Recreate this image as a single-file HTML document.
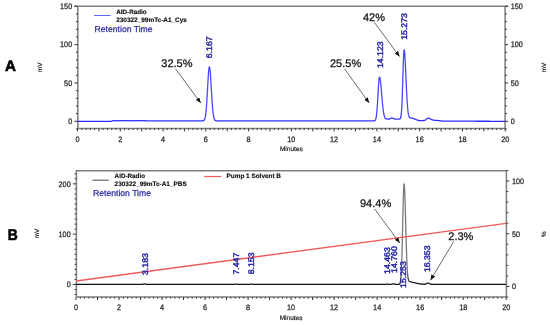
<!DOCTYPE html><html><head><meta charset="utf-8"><style>html,body{margin:0;padding:0;background:#fff;width:550px;height:325px;overflow:hidden}svg{display:block;filter:blur(0.3px)}text{font-family:"Liberation Sans", sans-serif;text-rendering:geometricPrecision}</style></head><body>
<svg width="550" height="325" viewBox="0 0 550 325" fill="none">
<rect width="550" height="325" fill="#fff"/>
<defs><marker id="ah" viewBox="0 0 10 8" refX="10" refY="4" markerWidth="5.5" markerHeight="4.4" markerUnits="userSpaceOnUse" orient="auto"><path d="M0 0L10 4L0 8z" fill="#111"/></marker><linearGradient id="ga" gradientUnits="userSpaceOnUse" x1="0" y1="122" x2="0" y2="112"><stop offset="0" stop-color="#2b2bff"/><stop offset="1" stop-color="#4848ff"/></linearGradient><linearGradient id="gb" gradientUnits="userSpaceOnUse" x1="0" y1="283.5" x2="0" y2="273"><stop offset="0" stop-color="#111"/><stop offset="1" stop-color="#7a7a7a"/></linearGradient></defs>
<path d="M74.6 6.3H508.3" stroke="#7e7e7e" stroke-width="1.5"/>
<path d="M77.8 6.3V128.4 M505.1 6.3V128.4" stroke="#7e7e7e" stroke-width="1.5"/>
<path d="M77.8 128.4H505.1" stroke="#7e7e7e" stroke-width="1.5"/>
<path d="M76 128.97H77.8 M74.3 121.3H77.8 M76 113.63H77.8 M76 105.97H77.8 M76 98.3H77.8 M76 90.63H77.8 M74.3 82.97H77.8 M76 75.3H77.8 M76 67.63H77.8 M76 59.96H77.8 M76 52.3H77.8 M74.3 44.63H77.8 M76 36.96H77.8 M76 29.3H77.8 M76 21.63H77.8 M76 13.96H77.8 M74.3 6.29H77.8" stroke="#333" stroke-width="1"/>
<path d="M505.1 128.97H506.9 M505.1 121.3H508 M505.1 113.63H506.9 M505.1 105.97H506.9 M505.1 98.3H506.9 M505.1 90.63H506.9 M505.1 82.97H508 M505.1 75.3H506.9 M505.1 67.63H506.9 M505.1 59.96H506.9 M505.1 52.3H506.9 M505.1 44.63H508 M505.1 36.96H506.9 M505.1 29.3H506.9 M505.1 21.63H506.9 M505.1 13.96H506.9 M505.1 6.29H508" stroke="#333" stroke-width="1"/>
<path d="M77.5 128.4V131.4 M81.78 128.4V130 M86.05 128.4V130 M90.33 128.4V130 M94.61 128.4V130 M98.89 128.4V131.4 M103.16 128.4V130 M107.44 128.4V130 M111.72 128.4V130 M115.99 128.4V130 M120.27 128.4V131.4 M124.55 128.4V130 M128.82 128.4V130 M133.1 128.4V130 M137.38 128.4V130 M141.66 128.4V131.4 M145.93 128.4V130 M150.21 128.4V130 M154.49 128.4V130 M158.76 128.4V130 M163.04 128.4V131.4 M167.32 128.4V130 M171.59 128.4V130 M175.87 128.4V130 M180.15 128.4V130 M184.43 128.4V131.4 M188.7 128.4V130 M192.98 128.4V130 M197.26 128.4V130 M201.53 128.4V130 M205.81 128.4V131.4 M210.09 128.4V130 M214.36 128.4V130 M218.64 128.4V130 M222.92 128.4V130 M227.2 128.4V131.4 M231.47 128.4V130 M235.75 128.4V130 M240.03 128.4V130 M244.3 128.4V130 M248.58 128.4V131.4 M252.86 128.4V130 M257.13 128.4V130 M261.41 128.4V130 M265.69 128.4V130 M269.97 128.4V131.4 M274.24 128.4V130 M278.52 128.4V130 M282.8 128.4V130 M287.07 128.4V130 M291.35 128.4V131.4 M295.63 128.4V130 M299.9 128.4V130 M304.18 128.4V130 M308.46 128.4V130 M312.74 128.4V131.4 M317.01 128.4V130 M321.29 128.4V130 M325.57 128.4V130 M329.84 128.4V130 M334.12 128.4V131.4 M338.4 128.4V130 M342.67 128.4V130 M346.95 128.4V130 M351.23 128.4V130 M355.5 128.4V131.4 M359.78 128.4V130 M364.06 128.4V130 M368.34 128.4V130 M372.61 128.4V130 M376.89 128.4V131.4 M381.17 128.4V130 M385.44 128.4V130 M389.72 128.4V130 M394 128.4V130 M398.28 128.4V131.4 M402.55 128.4V130 M406.83 128.4V130 M411.11 128.4V130 M415.38 128.4V130 M419.66 128.4V131.4 M423.94 128.4V130 M428.21 128.4V130 M432.49 128.4V130 M436.77 128.4V130 M441.05 128.4V131.4 M445.32 128.4V130 M449.6 128.4V130 M453.88 128.4V130 M458.15 128.4V130 M462.43 128.4V131.4 M466.71 128.4V130 M470.98 128.4V130 M475.26 128.4V130 M479.54 128.4V130 M483.82 128.4V131.4 M488.09 128.4V130 M492.37 128.4V130 M496.65 128.4V130 M500.92 128.4V130 M505.2 128.4V131.4" stroke="#333" stroke-width="1"/>
<text transform="translate(72.2 124.15) scale(0.92 1)" text-anchor="end" font-size="7.9" fill="#1e1e1e" stroke="#1e1e1e" stroke-width="0.25">0</text>
<text transform="translate(72.2 85.81) scale(0.92 1)" text-anchor="end" font-size="7.9" fill="#1e1e1e" stroke="#1e1e1e" stroke-width="0.25">50</text>
<text transform="translate(72.2 47.48) scale(0.92 1)" text-anchor="end" font-size="7.9" fill="#1e1e1e" stroke="#1e1e1e" stroke-width="0.25">100</text>
<text transform="translate(72.2 9.14) scale(0.92 1)" text-anchor="end" font-size="7.9" fill="#1e1e1e" stroke="#1e1e1e" stroke-width="0.25">150</text>
<text transform="translate(510.7 124.15) scale(0.92 1)" font-size="7.9" fill="#1e1e1e" stroke="#1e1e1e" stroke-width="0.25">0</text>
<text transform="translate(510.7 85.81) scale(0.92 1)" font-size="7.9" fill="#1e1e1e" stroke="#1e1e1e" stroke-width="0.25">50</text>
<text transform="translate(510.7 47.48) scale(0.92 1)" font-size="7.9" fill="#1e1e1e" stroke="#1e1e1e" stroke-width="0.25">100</text>
<text transform="translate(510.7 9.14) scale(0.92 1)" font-size="7.9" fill="#1e1e1e" stroke="#1e1e1e" stroke-width="0.25">150</text>
<text transform="translate(77.5 141.7) scale(0.92 1)" text-anchor="middle" font-size="7.9" fill="#1e1e1e" stroke="#1e1e1e" stroke-width="0.25">0</text>
<text transform="translate(120.27 141.7) scale(0.92 1)" text-anchor="middle" font-size="7.9" fill="#1e1e1e" stroke="#1e1e1e" stroke-width="0.25">2</text>
<text transform="translate(163.04 141.7) scale(0.92 1)" text-anchor="middle" font-size="7.9" fill="#1e1e1e" stroke="#1e1e1e" stroke-width="0.25">4</text>
<text transform="translate(205.81 141.7) scale(0.92 1)" text-anchor="middle" font-size="7.9" fill="#1e1e1e" stroke="#1e1e1e" stroke-width="0.25">6</text>
<text transform="translate(248.58 141.7) scale(0.92 1)" text-anchor="middle" font-size="7.9" fill="#1e1e1e" stroke="#1e1e1e" stroke-width="0.25">8</text>
<text transform="translate(291.35 141.7) scale(0.92 1)" text-anchor="middle" font-size="7.9" fill="#1e1e1e" stroke="#1e1e1e" stroke-width="0.25">10</text>
<text transform="translate(334.12 141.7) scale(0.92 1)" text-anchor="middle" font-size="7.9" fill="#1e1e1e" stroke="#1e1e1e" stroke-width="0.25">12</text>
<text transform="translate(376.89 141.7) scale(0.92 1)" text-anchor="middle" font-size="7.9" fill="#1e1e1e" stroke="#1e1e1e" stroke-width="0.25">14</text>
<text transform="translate(419.66 141.7) scale(0.92 1)" text-anchor="middle" font-size="7.9" fill="#1e1e1e" stroke="#1e1e1e" stroke-width="0.25">16</text>
<text transform="translate(462.43 141.7) scale(0.92 1)" text-anchor="middle" font-size="7.9" fill="#1e1e1e" stroke="#1e1e1e" stroke-width="0.25">18</text>
<text transform="translate(505.2 141.7) scale(0.92 1)" text-anchor="middle" font-size="7.9" fill="#1e1e1e" stroke="#1e1e1e" stroke-width="0.25">20</text>
<text x="291.35" y="150.6" text-anchor="middle" font-size="6.5" fill="#1e1e1e" stroke="#1e1e1e" stroke-width="0.2">Minutes</text>
<polyline points="77.5,121.3 77.68,121.3 77.86,121.3 78.03,121.3 78.21,121.3 78.39,121.3 78.57,121.3 78.75,121.3 78.93,121.3 79.1,121.3 79.28,121.3 79.46,121.3 79.64,121.3 79.82,121.3 79.99,121.3 80.17,121.3 80.35,121.3 80.53,121.3 80.71,121.3 80.89,121.3 81.06,121.3 81.24,121.3 81.42,121.3 81.6,121.3 81.78,121.3 81.96,121.3 82.13,121.3 82.31,121.3 82.49,121.3 82.67,121.3 82.85,121.3 83.02,121.3 83.2,121.3 83.38,121.3 83.56,121.3 83.74,121.3 83.92,121.3 84.09,121.3 84.27,121.3 84.45,121.3 84.63,121.3 84.81,121.3 84.98,121.3 85.16,121.3 85.34,121.3 85.52,121.3 85.7,121.3 85.88,121.3 86.05,121.3 86.23,121.3 86.41,121.3 86.59,121.3 86.77,121.3 86.95,121.3 87.12,121.3 87.3,121.3 87.48,121.3 87.66,121.3 87.84,121.3 88.01,121.3 88.19,121.3 88.37,121.3 88.55,121.3 88.73,121.3 88.91,121.3 89.08,121.3 89.26,121.3 89.44,121.3 89.62,121.3 89.8,121.3 89.97,121.3 90.15,121.3 90.33,121.3 90.51,121.3 90.69,121.3 90.87,121.3 91.04,121.3 91.22,121.3 91.4,121.3 91.58,121.3 91.76,121.3 91.93,121.3 92.11,121.3 92.29,121.3 92.47,121.3 92.65,121.3 92.83,121.3 93,121.3 93.18,121.3 93.36,121.3 93.54,121.3 93.72,121.3 93.9,121.3 94.07,121.3 94.25,121.3 94.43,121.3 94.61,121.3 94.79,121.3 94.96,121.3 95.14,121.3 95.32,121.3 95.5,121.3 95.68,121.3 95.86,121.3 96.03,121.3 96.21,121.3 96.39,121.3 96.57,121.3 96.75,121.3 96.92,121.3 97.1,121.3 97.28,121.3 97.46,121.3 97.64,121.3 97.82,121.3 97.99,121.3 98.17,121.3 98.35,121.3 98.53,121.3 98.71,121.3 98.89,121.3 99.06,121.3 99.24,121.3 99.42,121.3 99.6,121.3 99.78,121.3 99.95,121.3 100.13,121.3 100.31,121.3 100.49,121.3 100.67,121.3 100.85,121.3 101.02,121.3 101.2,121.3 101.38,121.3 101.56,121.3 101.74,121.3 101.91,121.3 102.09,121.3 102.27,121.3 102.45,121.3 102.63,121.3 102.81,121.3 102.98,121.3 103.16,121.3 103.34,121.3 103.52,121.3 103.7,121.3 103.87,121.3 104.05,121.3 104.23,121.3 104.41,121.3 104.59,121.3 104.77,121.3 104.94,121.3 105.12,121.3 105.3,121.3 105.48,121.3 105.66,121.3 105.84,121.3 106.01,121.3 106.19,121.3 106.37,121.3 106.55,121.3 106.73,121.3 106.9,121.3 107.08,121.3 107.26,121.3 107.44,121.3 107.62,121.3 107.8,121.3 107.97,121.3 108.15,121.3 108.33,121.3 108.51,121.3 108.69,121.3 108.86,121.3 109.04,121.3 109.22,121.3 109.4,121.3 109.58,121.3 109.76,121.3 109.93,121.3 110.11,121.3 110.29,121.3 110.47,121.3 110.65,121.3 110.82,121.29 111,121.28 111.18,121.25 111.36,121.22 111.54,121.18 111.72,121.14 111.89,121.09 112.07,121.04 112.25,120.99 112.43,120.94 112.61,120.89 112.79,120.85 112.96,120.8 113.14,120.76 113.32,120.73 113.5,120.71 113.68,120.69 113.85,120.69 114.03,120.59 114.21,120.58 114.39,120.57 114.57,120.58 114.75,120.6 114.92,120.63 115.1,120.67 115.28,120.71 115.46,120.74 115.64,120.77 115.81,120.79 115.99,120.8 116.17,120.8 116.35,120.78 116.53,120.75 116.71,120.71 116.88,120.67 117.06,120.64 117.24,120.6 117.42,120.58 117.6,120.57 117.78,120.58 117.95,120.59 118.13,120.62 118.31,120.65 118.49,120.69 118.67,120.73 118.84,120.76 119.02,120.79 119.2,120.8 119.38,120.8 119.56,120.79 119.74,120.76 119.91,120.73 120.09,120.69 120.27,120.65 120.45,120.62 120.63,120.59 120.8,120.57 120.98,120.57 121.16,120.58 121.34,120.61 121.52,120.64 121.7,120.68 121.87,120.72 122.05,120.75 122.23,120.78 122.41,120.8 122.59,120.8 122.76,120.79 122.94,120.77 123.12,120.74 123.3,120.7 123.48,120.67 123.66,120.63 123.83,120.6 124.01,120.58 124.19,120.57 124.37,120.58 124.55,120.6 124.73,120.63 124.9,120.66 125.08,120.7 125.26,120.74 125.44,120.77 125.62,120.79 125.79,120.8 125.97,120.8 126.15,120.78 126.33,120.75 126.51,120.72 126.69,120.68 126.86,120.64 127.04,120.61 127.22,120.59 127.4,120.57 127.58,120.57 127.75,120.59 127.93,120.61 128.11,120.65 128.29,120.68 128.47,120.72 128.65,120.76 128.82,120.78 129,120.8 129.18,120.8 129.36,120.79 129.54,120.77 129.72,120.73 129.89,120.7 130.07,120.66 130.25,120.62 130.43,120.59 130.61,120.58 130.78,120.57 130.96,120.58 131.14,120.6 131.32,120.63 131.5,120.67 131.68,120.71 131.85,120.75 132.03,120.78 132.21,120.79 132.39,120.8 132.57,120.8 132.74,120.78 132.92,120.75 133.1,120.71 133.28,120.67 133.46,120.63 133.64,120.6 133.81,120.58 133.99,120.57 134.17,120.58 134.35,120.59 134.53,120.62 134.7,120.65 134.88,120.69 135.06,120.73 135.24,120.76 135.42,120.79 135.6,120.8 135.77,120.8 135.95,120.79 136.13,120.76 136.31,120.73 136.49,120.69 136.67,120.65 136.84,120.61 137.02,120.59 137.2,120.57 137.38,120.57 137.56,120.58 137.73,120.61 137.91,120.64 138.09,120.68 138.27,120.72 138.45,120.75 138.63,120.78 138.8,120.8 138.98,120.8 139.16,120.79 139.34,120.77 139.52,120.74 139.69,120.7 139.87,120.66 140.05,120.63 140.23,120.6 140.41,120.58 140.59,120.57 140.76,120.58 140.94,120.6 141.12,120.63 141.3,120.66 141.48,120.7 141.66,120.74 141.83,120.77 142.01,120.79 142.19,120.8 142.37,120.8 142.55,120.78 142.72,120.75 142.9,120.72 143.08,120.68 143.26,120.64 143.44,120.61 143.62,120.58 143.79,120.69 143.97,120.69 144.15,120.69 144.33,120.7 144.51,120.71 144.68,120.72 144.86,120.73 145.04,120.74 145.22,120.75 145.4,120.76 145.58,120.78 145.75,120.79 145.93,120.8 146.11,120.81 146.29,120.82 146.47,120.83 146.64,120.83 146.82,120.84 147,120.84 147.18,120.84 147.36,120.84 147.54,120.84 147.71,120.84 147.89,120.84 148.07,120.84 148.25,120.84 148.43,120.84 148.61,120.84 148.78,120.84 148.96,120.84 149.14,120.84 149.32,120.84 149.5,120.84 149.67,120.84 149.85,120.84 150.03,120.84 150.21,120.84 150.39,120.84 150.57,120.84 150.74,120.84 150.92,120.84 151.1,120.84 151.28,120.84 151.46,120.84 151.63,120.84 151.81,120.84 151.99,120.84 152.17,120.84 152.35,120.84 152.53,120.84 152.7,120.84 152.88,120.84 153.06,120.84 153.24,120.84 153.42,120.84 153.59,120.84 153.77,120.84 153.95,120.84 154.13,120.84 154.31,120.84 154.49,120.84 154.66,120.84 154.84,120.84 155.02,120.84 155.2,120.84 155.38,120.84 155.56,120.84 155.73,120.84 155.91,120.84 156.09,120.84 156.27,120.84 156.45,120.84 156.62,120.84 156.8,120.84 156.98,120.84 157.16,120.84 157.34,120.84 157.52,120.84 157.69,120.84 157.87,120.84 158.05,120.84 158.23,120.84 158.41,120.84 158.58,120.84 158.76,120.84 158.94,120.84 159.12,120.84 159.3,120.84 159.48,120.84 159.65,120.84 159.83,120.84 160.01,120.84 160.19,120.84 160.37,120.84 160.55,120.84 160.72,120.84 160.9,120.84 161.08,120.84 161.26,120.84 161.44,120.84 161.61,120.84 161.79,120.84 161.97,120.84 162.15,120.84 162.33,120.84 162.51,120.84 162.68,120.84 162.86,120.84 163.04,120.84 163.22,120.84 163.4,120.84 163.57,120.84 163.75,120.84 163.93,120.84 164.11,120.84 164.29,120.84 164.47,120.84 164.64,120.84 164.82,120.84 165,120.84 165.18,120.84 165.36,120.84 165.53,120.84 165.71,120.84 165.89,120.84 166.07,120.84 166.25,120.84 166.43,120.84 166.6,120.84 166.78,120.84 166.96,120.84 167.14,120.84 167.32,120.84 167.5,120.84 167.67,120.84 167.85,120.84 168.03,120.84 168.21,120.84 168.39,120.84 168.56,120.84 168.74,120.84 168.92,120.84 169.1,120.84 169.28,120.84 169.46,120.84 169.63,120.84 169.81,120.84 169.99,120.84 170.17,120.84 170.35,120.84 170.52,120.84 170.7,120.84 170.88,120.84 171.06,120.84 171.24,120.84 171.42,120.84 171.59,120.84 171.77,120.84 171.95,120.84 172.13,120.84 172.31,120.84 172.49,120.84 172.66,120.84 172.84,120.84 173.02,120.84 173.2,120.84 173.38,120.84 173.55,120.84 173.73,120.84 173.91,120.84 174.09,120.84 174.27,120.84 174.45,120.84 174.62,120.84 174.8,120.84 174.98,120.84 175.16,120.84 175.34,120.84 175.51,120.84 175.69,120.84 175.87,120.84 176.05,120.84 176.23,120.84 176.41,120.84 176.58,120.84 176.76,120.84 176.94,120.84 177.12,120.84 177.3,120.84 177.47,120.84 177.65,120.84 177.83,120.84 178.01,120.84 178.19,120.84 178.37,120.84 178.54,120.84 178.72,120.84 178.9,120.84 179.08,120.84 179.26,120.84 179.44,120.84 179.61,120.84 179.79,120.84 179.97,120.84 180.15,120.84 180.33,120.84 180.5,120.84 180.68,120.84 180.86,120.84 181.04,120.84 181.22,120.84 181.4,120.84 181.57,120.84 181.75,120.84 181.93,120.84 182.11,120.84 182.29,120.84 182.46,120.84 182.64,120.84 182.82,120.84 183,120.84 183.18,120.84 183.36,120.84 183.53,120.84 183.71,120.84 183.89,120.84 184.07,120.84 184.25,120.84 184.43,120.84 184.6,120.84 184.78,120.84 184.96,120.84 185.14,120.84 185.32,120.84 185.49,120.84 185.67,120.84 185.85,120.84 186.03,120.84 186.21,120.84 186.39,120.84 186.56,120.84 186.74,120.84 186.92,120.84 187.1,120.84 187.28,120.84 187.45,120.84 187.63,120.84 187.81,120.84 187.99,120.84 188.17,120.84 188.35,120.84 188.52,120.84 188.7,120.84 188.88,120.84 189.06,120.84 189.24,120.84 189.41,120.84 189.59,120.84 189.77,120.84 189.95,120.84 190.13,120.84 190.31,120.84 190.48,120.84 190.66,120.84 190.84,120.84 191.02,120.84 191.2,120.84 191.38,120.84 191.55,120.84 191.73,120.84 191.91,120.84 192.09,120.84 192.27,120.84 192.44,120.84 192.62,120.84 192.8,120.84 192.98,120.84 193.16,120.84 193.34,120.84 193.51,120.84 193.69,120.84 193.87,120.84 194.05,120.84 194.23,120.84 194.4,120.84 194.58,120.84 194.76,120.84 194.94,120.84 195.12,120.84 195.3,120.84 195.47,120.84 195.65,120.84 195.83,120.84 196.01,120.84 196.19,120.84 196.36,120.84 196.54,120.84 196.72,120.84 196.9,120.84 197.08,120.84 197.26,120.84 197.43,120.84 197.61,120.84 197.79,120.84 197.97,120.84 198.15,120.84 198.33,120.84 198.5,120.84 198.68,120.84 198.86,120.84 199.04,120.84 199.22,120.84 199.39,120.84 199.57,120.84 199.75,120.84 199.93,120.84 200.11,120.84 200.29,120.84 200.46,120.84 200.64,120.84 200.82,120.84 201,120.84 201.18,120.84 201.35,120.84 201.53,120.84 201.71,120.83 201.89,120.83 202.07,120.83 202.25,120.82 202.42,120.81 202.6,120.8 202.78,120.78 202.96,120.75 203.14,120.71 203.32,120.66 203.49,120.59 203.67,120.5 203.85,120.37 204.03,120.2 204.21,119.99 204.38,119.71 204.56,119.36 204.74,118.92 204.92,118.38 205.1,117.7 205.28,116.89 205.45,115.9 205.63,114.74 205.81,113.37 205.99,111.79 206.17,109.97 206.34,107.93 206.52,105.64 206.7,103.13 206.88,100.41 207.06,97.5 207.24,94.43 207.41,91.25 207.59,88.02 207.77,84.79 207.95,81.63 208.13,78.61 208.3,75.8 208.48,73.27 208.66,71.1 208.84,69.34 209.02,68.03 209.2,67.23 209.37,66.94 209.55,67.16 209.73,67.84 209.91,68.97 210.09,70.52 210.27,72.45 210.44,74.71 210.62,77.25 210.8,80.01 210.98,82.93 211.16,85.95 211.33,89.01 211.51,92.05 211.69,95.03 211.87,97.9 212.05,100.63 212.23,103.19 212.4,105.56 212.58,107.73 212.76,109.69 212.94,111.44 213.12,112.98 213.29,114.33 213.47,115.49 213.65,116.49 213.83,117.33 214.01,118.03 214.19,118.61 214.36,119.09 214.54,119.48 214.72,119.79 214.9,120.03 215.08,120.23 215.26,120.38 215.43,120.5 215.61,120.59 215.79,120.65 215.97,120.7 216.15,120.74 216.32,120.77 216.5,120.79 216.68,120.81 216.86,120.82 217.04,120.82 217.22,120.83 217.39,120.83 217.57,120.83 217.75,120.84 217.93,120.84 218.11,120.84 218.28,120.84 218.46,120.84 218.64,120.84 218.82,120.84 219,120.84 219.18,120.84 219.35,120.84 219.53,120.84 219.71,120.84 219.89,120.84 220.07,120.84 220.24,120.84 220.42,120.84 220.6,120.84 220.78,120.84 220.96,120.84 221.14,120.84 221.31,120.84 221.49,120.84 221.67,120.84 221.85,120.84 222.03,120.84 222.21,120.84 222.38,120.84 222.56,120.84 222.74,120.84 222.92,120.84 223.1,120.84 223.27,120.84 223.45,120.84 223.63,120.84 223.81,120.84 223.99,120.84 224.17,120.84 224.34,120.84 224.52,120.84 224.7,120.84 224.88,120.84 225.06,120.84 225.23,120.84 225.41,120.84 225.59,120.84 225.77,120.84 225.95,120.84 226.13,120.84 226.3,120.84 226.48,120.84 226.66,120.84 226.84,120.84 227.02,120.84 227.2,120.84 227.37,120.84 227.55,120.84 227.73,120.84 227.91,120.84 228.09,120.84 228.26,120.84 228.44,120.84 228.62,120.84 228.8,120.84 228.98,120.84 229.16,120.84 229.33,120.84 229.51,120.84 229.69,120.84 229.87,120.84 230.05,120.84 230.22,120.84 230.4,120.84 230.58,120.84 230.76,120.84 230.94,120.84 231.12,120.84 231.29,120.84 231.47,120.84 231.65,120.84 231.83,120.84 232.01,120.84 232.18,120.84 232.36,120.84 232.54,120.84 232.72,120.84 232.9,120.84 233.08,120.84 233.25,120.84 233.43,120.84 233.61,120.84 233.79,120.84 233.97,120.84 234.15,120.84 234.32,120.84 234.5,120.84 234.68,120.84 234.86,120.84 235.04,120.84 235.21,120.84 235.39,120.84 235.57,120.84 235.75,120.84 235.93,120.84 236.11,120.84 236.28,120.84 236.46,120.84 236.64,120.84 236.82,120.84 237,120.84 237.17,120.84 237.35,120.84 237.53,120.84 237.71,120.84 237.89,120.84 238.07,120.84 238.24,120.84 238.42,120.84 238.6,120.84 238.78,120.84 238.96,120.84 239.13,120.84 239.31,120.84 239.49,120.84 239.67,120.84 239.85,120.84 240.03,120.84 240.2,120.84 240.38,120.84 240.56,120.84 240.74,120.84 240.92,120.84 241.1,120.84 241.27,120.84 241.45,120.84 241.63,120.84 241.81,120.84 241.99,120.84 242.16,120.84 242.34,120.84 242.52,120.84 242.7,120.84 242.88,120.84 243.06,120.84 243.23,120.84 243.41,120.84 243.59,120.84 243.77,120.84 243.95,120.84 244.12,120.84 244.3,120.84 244.48,120.84 244.66,120.84 244.84,120.84 245.02,120.84 245.19,120.84 245.37,120.84 245.55,120.84 245.73,120.84 245.91,120.84 246.09,120.84 246.26,120.84 246.44,120.84 246.62,120.84 246.8,120.84 246.98,120.84 247.15,120.84 247.33,120.84 247.51,120.84 247.69,120.84 247.87,120.84 248.05,120.84 248.22,120.84 248.4,120.84 248.58,120.84 248.76,120.84 248.94,120.84 249.11,120.84 249.29,120.84 249.47,120.84 249.65,120.84 249.83,120.84 250.01,120.84 250.18,120.84 250.36,120.84 250.54,120.84 250.72,120.84 250.9,120.84 251.07,120.84 251.25,120.84 251.43,120.84 251.61,120.84 251.79,120.84 251.97,120.84 252.14,120.84 252.32,120.84 252.5,120.84 252.68,120.84 252.86,120.84 253.04,120.84 253.21,120.84 253.39,120.84 253.57,120.84 253.75,120.84 253.93,120.84 254.1,120.84 254.28,120.84 254.46,120.84 254.64,120.84 254.82,120.84 255,120.84 255.17,120.84 255.35,120.84 255.53,120.84 255.71,120.84 255.89,120.84 256.06,120.84 256.24,120.84 256.42,120.84 256.6,120.84 256.78,120.84 256.96,120.84 257.13,120.84 257.31,120.84 257.49,120.84 257.67,120.84 257.85,120.84 258.03,120.84 258.2,120.84 258.38,120.84 258.56,120.84 258.74,120.84 258.92,120.84 259.09,120.84 259.27,120.84 259.45,120.84 259.63,120.84 259.81,120.84 259.99,120.84 260.16,120.84 260.34,120.84 260.52,120.84 260.7,120.84 260.88,120.84 261.05,120.84 261.23,120.84 261.41,120.84 261.59,120.84 261.77,120.84 261.95,120.84 262.12,120.84 262.3,120.84 262.48,120.84 262.66,120.84 262.84,120.84 263.01,120.84 263.19,120.84 263.37,120.84 263.55,120.84 263.73,120.84 263.91,120.84 264.08,120.84 264.26,120.84 264.44,120.84 264.62,120.84 264.8,120.84 264.98,120.84 265.15,120.84 265.33,120.84 265.51,120.84 265.69,120.84 265.87,120.84 266.04,120.84 266.22,120.84 266.4,120.84 266.58,120.84 266.76,120.84 266.94,120.84 267.11,120.84 267.29,120.84 267.47,120.84 267.65,120.84 267.83,120.84 268,120.84 268.18,120.84 268.36,120.84 268.54,120.84 268.72,120.84 268.9,120.84 269.07,120.84 269.25,120.84 269.43,120.84 269.61,120.84 269.79,120.84 269.97,120.84 270.14,120.84 270.32,120.84 270.5,120.84 270.68,120.84 270.86,120.84 271.03,120.84 271.21,120.84 271.39,120.84 271.57,120.84 271.75,120.84 271.93,120.84 272.1,120.84 272.28,120.84 272.46,120.84 272.64,120.84 272.82,120.84 272.99,120.84 273.17,120.84 273.35,120.84 273.53,120.84 273.71,120.84 273.89,120.84 274.06,120.84 274.24,120.84 274.42,120.84 274.6,120.84 274.78,120.84 274.95,120.84 275.13,120.84 275.31,120.84 275.49,120.84 275.67,120.84 275.85,120.84 276.02,120.84 276.2,120.84 276.38,120.84 276.56,120.84 276.74,120.84 276.92,120.84 277.09,120.84 277.27,120.84 277.45,120.84 277.63,120.84 277.81,120.84 277.98,120.84 278.16,120.84 278.34,120.84 278.52,120.84 278.7,120.84 278.88,120.84 279.05,120.84 279.23,120.84 279.41,120.84 279.59,120.84 279.77,120.84 279.94,120.84 280.12,120.84 280.3,120.84 280.48,120.84 280.66,120.84 280.84,120.84 281.01,120.84 281.19,120.84 281.37,120.84 281.55,120.84 281.73,120.84 281.9,120.84 282.08,120.84 282.26,120.84 282.44,120.84 282.62,120.84 282.8,120.84 282.97,120.84 283.15,120.84 283.33,120.84 283.51,120.84 283.69,120.84 283.87,120.84 284.04,120.84 284.22,120.84 284.4,120.84 284.58,120.84 284.76,120.84 284.93,120.84 285.11,120.84 285.29,120.84 285.47,120.84 285.65,120.84 285.83,120.84 286,120.84 286.18,120.84 286.36,120.84 286.54,120.84 286.72,120.84 286.89,120.84 287.07,120.84 287.25,120.84 287.43,120.84 287.61,120.84 287.79,120.84 287.96,120.84 288.14,120.84 288.32,120.84 288.5,120.84 288.68,120.84 288.86,120.84 289.03,120.84 289.21,120.84 289.39,120.84 289.57,120.84 289.75,120.84 289.92,120.84 290.1,120.84 290.28,120.84 290.46,120.84 290.64,120.84 290.82,120.84 290.99,120.84 291.17,120.84 291.35,120.84 291.53,120.84 291.71,120.84 291.88,120.84 292.06,120.84 292.24,120.84 292.42,120.84 292.6,120.84 292.78,120.84 292.95,120.84 293.13,120.84 293.31,120.84 293.49,120.84 293.67,120.84 293.84,120.84 294.02,120.84 294.2,120.84 294.38,120.84 294.56,120.84 294.74,120.84 294.91,120.84 295.09,120.84 295.27,120.84 295.45,120.84 295.63,120.84 295.81,120.84 295.98,120.84 296.16,120.84 296.34,120.84 296.52,120.84 296.7,120.84 296.87,120.84 297.05,120.84 297.23,120.84 297.41,120.84 297.59,120.84 297.77,120.84 297.94,120.84 298.12,120.84 298.3,120.84 298.48,120.84 298.66,120.84 298.83,120.84 299.01,120.84 299.19,120.84 299.37,120.84 299.55,120.84 299.73,120.84 299.9,120.84 300.08,120.84 300.26,120.84 300.44,120.84 300.62,120.84 300.8,120.84 300.97,120.84 301.15,120.84 301.33,120.84 301.51,120.84 301.69,120.84 301.86,120.84 302.04,120.84 302.22,120.84 302.4,120.84 302.58,120.84 302.76,120.84 302.93,120.84 303.11,120.84 303.29,120.84 303.47,120.84 303.65,120.84 303.82,120.84 304,120.84 304.18,120.84 304.36,120.84 304.54,120.84 304.72,120.84 304.89,120.84 305.07,120.84 305.25,120.84 305.43,120.84 305.61,120.84 305.78,120.84 305.96,120.84 306.14,120.84 306.32,120.84 306.5,120.84 306.68,120.84 306.85,120.84 307.03,120.84 307.21,120.84 307.39,120.84 307.57,120.84 307.75,120.84 307.92,120.84 308.1,120.84 308.28,120.84 308.46,120.84 308.64,120.84 308.81,120.84 308.99,120.84 309.17,120.84 309.35,120.84 309.53,120.84 309.71,120.84 309.88,120.84 310.06,120.84 310.24,120.84 310.42,120.84 310.6,120.84 310.77,120.84 310.95,120.84 311.13,120.84 311.31,120.84 311.49,120.84 311.67,120.84 311.84,120.84 312.02,120.84 312.2,120.84 312.38,120.84 312.56,120.84 312.74,120.84 312.91,120.84 313.09,120.84 313.27,120.84 313.45,120.84 313.63,120.84 313.8,120.84 313.98,120.84 314.16,120.84 314.34,120.84 314.52,120.84 314.7,120.84 314.87,120.84 315.05,120.84 315.23,120.84 315.41,120.84 315.59,120.84 315.76,120.84 315.94,120.84 316.12,120.84 316.3,120.84 316.48,120.84 316.66,120.84 316.83,120.84 317.01,120.84 317.19,120.84 317.37,120.84 317.55,120.84 317.72,120.84 317.9,120.84 318.08,120.84 318.26,120.84 318.44,120.84 318.62,120.84 318.79,120.84 318.97,120.84 319.15,120.84 319.33,120.84 319.51,120.84 319.69,120.84 319.86,120.84 320.04,120.84 320.22,120.84 320.4,120.84 320.58,120.84 320.75,120.84 320.93,120.84 321.11,120.84 321.29,120.84 321.47,120.84 321.65,120.84 321.82,120.84 322,120.84 322.18,120.84 322.36,120.84 322.54,120.84 322.71,120.84 322.89,120.84 323.07,120.84 323.25,120.84 323.43,120.84 323.61,120.84 323.78,120.84 323.96,120.84 324.14,120.84 324.32,120.84 324.5,120.84 324.67,120.84 324.85,120.84 325.03,120.84 325.21,120.84 325.39,120.84 325.57,120.84 325.74,120.84 325.92,120.84 326.1,120.84 326.28,120.84 326.46,120.84 326.64,120.84 326.81,120.84 326.99,120.84 327.17,120.84 327.35,120.84 327.53,120.84 327.7,120.84 327.88,120.84 328.06,120.84 328.24,120.84 328.42,120.84 328.6,120.84 328.77,120.84 328.95,120.84 329.13,120.84 329.31,120.84 329.49,120.84 329.66,120.84 329.84,120.84 330.02,120.84 330.2,120.84 330.38,120.84 330.56,120.84 330.73,120.84 330.91,120.84 331.09,120.84 331.27,120.84 331.45,120.84 331.63,120.84 331.8,120.84 331.98,120.84 332.16,120.84 332.34,120.84 332.52,120.84 332.69,120.84 332.87,120.84 333.05,120.84 333.23,120.84 333.41,120.84 333.59,120.84 333.76,120.84 333.94,120.84 334.12,120.84 334.3,120.84 334.48,120.84 334.65,120.84 334.83,120.84 335.01,120.84 335.19,120.84 335.37,120.84 335.55,120.84 335.72,120.84 335.9,120.84 336.08,120.84 336.26,120.84 336.44,120.84 336.61,120.84 336.79,120.84 336.97,120.84 337.15,120.84 337.33,120.84 337.51,120.84 337.68,120.84 337.86,120.84 338.04,120.84 338.22,120.84 338.4,120.84 338.58,120.84 338.75,120.84 338.93,120.84 339.11,120.84 339.29,120.84 339.47,120.84 339.64,120.84 339.82,120.84 340,120.84 340.18,120.84 340.36,120.84 340.54,120.84 340.71,120.84 340.89,120.84 341.07,120.84 341.25,120.84 341.43,120.84 341.6,120.84 341.78,120.84 341.96,120.84 342.14,120.84 342.32,120.84 342.5,120.84 342.67,120.84 342.85,120.84 343.03,120.84 343.21,120.84 343.39,120.84 343.57,120.84 343.74,120.84 343.92,120.84 344.1,120.84 344.28,120.84 344.46,120.84 344.63,120.84 344.81,120.84 344.99,120.84 345.17,120.84 345.35,120.84 345.53,120.84 345.7,120.84 345.88,120.84 346.06,120.84 346.24,120.84 346.42,120.84 346.59,120.84 346.77,120.84 346.95,120.84 347.13,120.84 347.31,120.84 347.49,120.84 347.66,120.84 347.84,120.84 348.02,120.84 348.2,120.84 348.38,120.84 348.55,120.84 348.73,120.84 348.91,120.84 349.09,120.84 349.27,120.84 349.45,120.84 349.62,120.84 349.8,120.84 349.98,120.84 350.16,120.84 350.34,120.84 350.52,120.84 350.69,120.84 350.87,120.84 351.05,120.84 351.23,120.84 351.41,120.84 351.58,120.84 351.76,120.84 351.94,120.84 352.12,120.84 352.3,120.84 352.48,120.84 352.65,120.84 352.83,120.84 353.01,120.84 353.19,120.84 353.37,120.84 353.54,120.84 353.72,120.84 353.9,120.84 354.08,120.84 354.26,120.84 354.44,120.84 354.61,120.84 354.79,120.84 354.97,120.84 355.15,120.84 355.33,120.84 355.5,120.84 355.68,120.84 355.86,120.84 356.04,120.84 356.22,120.84 356.4,120.84 356.57,120.84 356.75,120.84 356.93,120.84 357.11,120.84 357.29,120.84 357.47,120.84 357.64,120.84 357.82,120.84 358,120.84 358.18,120.84 358.36,120.84 358.53,120.84 358.71,120.84 358.89,120.84 359.07,120.84 359.25,120.84 359.43,120.84 359.6,120.84 359.78,120.84 359.96,120.84 360.14,120.84 360.32,120.84 360.49,120.84 360.67,120.84 360.85,120.84 361.03,120.84 361.21,120.84 361.39,120.84 361.56,120.84 361.74,120.84 361.92,120.84 362.1,120.84 362.28,120.84 362.46,120.84 362.63,120.84 362.81,120.84 362.99,120.84 363.17,120.84 363.35,120.84 363.52,120.84 363.7,120.84 363.88,120.84 364.06,120.84 364.24,120.84 364.42,120.84 364.59,120.84 364.77,120.84 364.95,120.84 365.13,120.84 365.31,120.84 365.48,120.84 365.66,120.84 365.84,120.84 366.02,120.84 366.2,120.84 366.38,120.84 366.55,120.84 366.73,120.84 366.91,120.84 367.09,120.84 367.27,120.84 367.44,120.84 367.62,120.84 367.8,120.84 367.98,120.84 368.16,120.84 368.34,120.84 368.51,120.84 368.69,120.84 368.87,120.84 369.05,120.84 369.23,120.84 369.41,120.84 369.58,120.84 369.76,120.84 369.94,120.84 370.12,120.84 370.3,120.84 370.47,120.84 370.65,120.84 370.83,120.84 371.01,120.84 371.19,120.84 371.37,120.84 371.54,120.84 371.72,120.84 371.9,120.84 372.08,120.84 372.26,120.84 372.43,120.84 372.61,120.84 372.79,120.84 372.97,120.84 373.15,120.84 373.33,120.83 373.5,120.83 373.68,120.82 373.86,120.81 374.04,120.79 374.22,120.76 374.4,120.72 374.57,120.66 374.75,120.57 374.93,120.45 375.11,120.28 375.29,120.04 375.46,119.71 375.64,119.29 375.82,118.74 376,118.04 376.18,117.16 376.36,116.09 376.53,114.78 376.71,113.23 376.89,111.42 377.07,109.33 377.25,106.98 377.42,104.38 377.6,101.57 377.78,98.58 377.96,95.49 378.14,92.36 378.32,89.3 378.49,86.38 378.67,83.72 378.85,81.41 379.03,79.53 379.21,78.16 379.38,77.35 379.56,77.12 379.74,77.29 379.92,77.77 380.1,78.53 380.28,79.57 380.45,80.87 380.63,82.39 380.81,84.1 380.99,85.98 381.17,87.98 381.35,90.07 381.52,92.22 381.7,94.39 381.88,96.55 382.06,98.67 382.24,100.73 382.41,102.71 382.59,104.57 382.77,106.32 382.95,107.94 383.13,109.42 383.31,110.76 383.48,111.97 383.66,113.05 383.84,114 384.02,114.83 384.2,115.55 384.37,116.17 384.55,116.7 384.73,117.15 384.91,117.52 385.09,117.83 385.27,118.09 385.44,118.29 385.62,118.46 385.8,118.6 385.98,118.71 386.16,118.79 386.34,118.86 386.51,118.91 386.69,118.95 386.87,118.99 387.05,119.01 387.23,119.03 387.4,119.04 387.58,119.05 387.76,119.06 387.94,119.06 388.12,119.06 388.3,119.06 388.47,119.06 388.65,119.05 388.83,119.04 389.01,119.02 389.19,119 389.36,118.97 389.54,118.92 389.72,118.86 389.9,118.79 390.08,118.71 390.26,118.62 390.43,118.51 390.61,118.4 390.79,118.3 390.97,118.2 391.15,118.11 391.32,118.05 391.5,118.01 391.68,118 391.86,118.01 392.04,118.04 392.22,118.08 392.39,118.13 392.57,118.19 392.75,118.26 392.93,118.33 393.11,118.41 393.29,118.49 393.46,118.56 393.64,118.64 393.82,118.7 394,118.76 394.18,118.82 394.35,118.87 394.53,118.91 394.71,118.94 394.89,118.97 395.07,119 395.25,119.02 395.42,119.03 395.6,119.04 395.78,119.05 395.96,119.06 396.14,119.06 396.31,119.07 396.49,119.07 396.67,119.07 396.85,119.07 397.03,119.07 397.21,119.08 397.38,119.08 397.56,119.08 397.74,119.08 397.92,119.08 398.1,119.08 398.28,119.08 398.45,119.07 398.63,119.07 398.81,119.07 398.99,119.06 399.17,119.05 399.34,119.03 399.52,119 399.7,118.94 399.88,118.85 400.06,118.71 400.24,118.49 400.41,118.18 400.59,117.74 400.77,117.11 400.95,116.24 401.13,115.07 401.3,113.53 401.48,111.54 401.66,109.02 401.84,105.93 402.02,102.22 402.2,97.88 402.37,92.95 402.55,87.52 402.73,81.72 402.91,75.74 403.09,69.81 403.26,64.2 403.44,59.19 403.62,55.03 403.8,51.97 403.98,50.19 404.16,49.76 404.33,50.22 404.51,51.33 404.69,53.07 404.87,55.38 405.05,58.21 405.23,61.46 405.4,65.06 405.58,68.92 405.76,72.94 405.94,77.04 406.12,81.13 406.29,85.14 406.47,88.99 406.65,92.64 406.83,96.05 407.01,99.18 407.19,102.02 407.36,104.57 407.54,106.81 407.72,108.78 407.9,110.47 408.08,111.91 408.25,113.13 408.43,114.14 408.61,114.97 408.79,115.65 408.97,116.2 409.15,116.64 409.32,116.98 409.5,117.26 409.68,117.47 409.86,117.63 410.04,117.75 410.21,117.84 410.39,117.91 410.57,117.96 410.75,118 410.93,118.03 411.11,118.04 411.28,118.06 411.46,118.08 411.64,118.1 411.82,118.12 412,118.15 412.18,118.18 412.35,118.22 412.53,118.26 412.71,118.31 412.89,118.35 413.07,118.41 413.24,118.46 413.42,118.52 413.6,118.58 413.78,118.65 413.96,118.72 414.14,118.79 414.31,118.86 414.49,118.93 414.67,119 414.85,119.08 415.03,119.15 415.2,119.23 415.38,119.31 415.56,119.38 415.74,119.46 415.92,119.54 416.1,119.61 416.27,119.68 416.45,119.76 416.63,119.83 416.81,119.9 416.99,119.96 417.17,120.03 417.34,120.09 417.52,120.15 417.7,120.21 417.88,120.26 418.06,120.31 418.23,120.35 418.41,120.39 418.59,120.43 418.77,120.46 418.95,120.49 419.13,120.51 419.3,120.52 419.48,120.53 419.66,120.53 419.84,120.53 420.02,120.53 420.19,120.53 420.37,120.53 420.55,120.53 420.73,120.53 420.91,120.53 421.09,120.53 421.26,120.53 421.44,120.53 421.62,120.53 421.8,120.53 421.98,120.53 422.15,120.53 422.33,120.53 422.51,120.53 422.69,120.53 422.87,120.53 423.05,120.52 423.22,120.52 423.4,120.51 423.58,120.5 423.76,120.49 423.94,120.48 424.12,120.45 424.29,120.43 424.47,120.39 424.65,120.35 424.83,120.29 425.01,120.22 425.18,120.14 425.36,120.05 425.54,119.94 425.72,119.81 425.9,119.67 426.08,119.52 426.25,119.36 426.43,119.2 426.61,119.03 426.79,118.86 426.97,118.7 427.14,118.56 427.32,118.43 427.5,118.33 427.68,118.26 427.86,118.21 428.04,118.2 428.21,118.2 428.39,118.22 428.57,118.24 428.75,118.28 428.93,118.32 429.11,118.38 429.28,118.44 429.46,118.51 429.64,118.59 429.82,118.67 430,118.75 430.17,118.84 430.35,118.93 430.53,119.03 430.71,119.12 430.89,119.21 431.07,119.3 431.24,119.39 431.42,119.47 431.6,119.56 431.78,119.63 431.96,119.71 432.13,119.78 432.31,119.84 432.49,119.9 432.67,119.96 432.85,120.01 433.03,120.05 433.2,120.09 433.38,120.13 433.56,120.17 433.74,120.19 433.92,120.22 434.09,120.24 434.27,120.26 434.45,120.28 434.63,120.3 434.81,120.31 434.99,120.33 435.16,120.34 435.34,120.35 435.52,120.36 435.7,120.38 435.88,120.39 436.06,120.4 436.23,120.41 436.41,120.43 436.59,120.44 436.77,120.45 436.95,120.47 437.12,120.48 437.3,120.5 437.48,120.51 437.66,120.53 437.84,120.54 438.02,120.56 438.19,120.58 438.37,120.6 438.55,120.61 438.73,120.63 438.91,120.65 439.08,120.67 439.26,120.69 439.44,120.71 439.62,120.72 439.8,120.74 439.98,120.76 440.15,120.78 440.33,120.8 440.51,120.82 440.69,120.84 440.87,120.86 441.05,120.88 441.22,120.9 441.4,120.91 441.58,120.93 441.76,120.95 441.94,120.96 442.11,120.98 442.29,121 442.47,121.01 442.65,121.03 442.83,121.04 443.01,121.05 443.18,121.07 443.36,121.08 443.54,121.09 443.72,121.1 443.9,121.11 444.07,121.12 444.25,121.13 444.43,121.13 444.61,121.14 444.79,121.14 444.97,121.14 445.14,121.15 445.32,121.15 445.5,121.15 445.68,121.15 445.86,121.15 446.03,121.15 446.21,121.15 446.39,121.15 446.57,121.15 446.75,121.15 446.93,121.15 447.1,121.15 447.28,121.15 447.46,121.15 447.64,121.15 447.82,121.15 448,121.15 448.17,121.15 448.35,121.15 448.53,121.15 448.71,121.15 448.89,121.15 449.06,121.15 449.24,121.15 449.42,121.15 449.6,121.15 449.78,121.15 449.96,121.15 450.13,121.15 450.31,121.15 450.49,121.15 450.67,121.15 450.85,121.15 451.02,121.15 451.2,121.15 451.38,121.15 451.56,121.15 451.74,121.15 451.92,121.15 452.09,121.15 452.27,121.15 452.45,121.15 452.63,121.15 452.81,121.15 452.98,121.15 453.16,121.15 453.34,121.15 453.52,121.15 453.7,121.15 453.88,121.16 454.05,121.16 454.23,121.16 454.41,121.16 454.59,121.16 454.77,121.16 454.95,121.16 455.12,121.16 455.3,121.16 455.48,121.16 455.66,121.16 455.84,121.16 456.01,121.16 456.19,121.16 456.37,121.16 456.55,121.16 456.73,121.16 456.91,121.16 457.08,121.16 457.26,121.16 457.44,121.16 457.62,121.16 457.8,121.16 457.97,121.16 458.15,121.16 458.33,121.17 458.51,121.17 458.69,121.17 458.87,121.17 459.04,121.17 459.22,121.17 459.4,121.17 459.58,121.17 459.76,121.17 459.94,121.17 460.11,121.17 460.29,121.17 460.47,121.17 460.65,121.17 460.83,121.17 461,121.17 461.18,121.17 461.36,121.17 461.54,121.17 461.72,121.17 461.9,121.18 462.07,121.18 462.25,121.18 462.43,121.18 462.61,121.18 462.79,121.18 462.96,121.18 463.14,121.18 463.32,121.18 463.5,121.18 463.68,121.18 463.86,121.18 464.03,121.18 464.21,121.18 464.39,121.18 464.57,121.18 464.75,121.18 464.92,121.19 465.1,121.19 465.28,121.19 465.46,121.19 465.64,121.19 465.82,121.19 465.99,121.19 466.17,121.19 466.35,121.19 466.53,121.19 466.71,121.19 466.89,121.19 467.06,121.19 467.24,121.19 467.42,121.19 467.6,121.19 467.78,121.2 467.95,121.2 468.13,121.2 468.31,121.2 468.49,121.2 468.67,121.2 468.85,121.2 469.02,121.2 469.2,121.2 469.38,121.2 469.56,121.2 469.74,121.2 469.91,121.2 470.09,121.2 470.27,121.2 470.45,121.21 470.63,121.21 470.81,121.21 470.98,121.21 471.16,121.21 471.34,121.21 471.52,121.21 471.7,121.21 471.88,121.21 472.05,121.21 472.23,121.21 472.41,121.21 472.59,121.21 472.77,121.21 472.94,121.21 473.12,121.22 473.3,121.22 473.48,121.22 473.66,121.22 473.84,121.22 474.01,121.22 474.19,121.22 474.37,121.22 474.55,121.22 474.73,121.22 474.9,121.22 475.08,121.22 475.26,121.22 475.44,121.22 475.62,121.22 475.8,121.23 475.97,121.23 476.15,121.23 476.33,121.23 476.51,121.23 476.69,121.23 476.86,121.23 477.04,121.23 477.22,121.23 477.4,121.23 477.58,121.23 477.76,121.23 477.93,121.23 478.11,121.23 478.29,121.23 478.47,121.24 478.65,121.24 478.83,121.24 479,121.24 479.18,121.24 479.36,121.24 479.54,121.24 479.72,121.24 479.89,121.24 480.07,121.24 480.25,121.24 480.43,121.24 480.61,121.24 480.79,121.24 480.96,121.24 481.14,121.25 481.32,121.25 481.5,121.25 481.68,121.25 481.85,121.25 482.03,121.25 482.21,121.25 482.39,121.25 482.57,121.25 482.75,121.25 482.92,121.25 483.1,121.25 483.28,121.25 483.46,121.25 483.64,121.25 483.82,121.26 483.99,121.26 484.17,121.26 484.35,121.26 484.53,121.26 484.71,121.26 484.88,121.26 485.06,121.26 485.24,121.26 485.42,121.26 485.6,121.26 485.78,121.26 485.95,121.26 486.13,121.26 486.31,121.26 486.49,121.26 486.67,121.27 486.84,121.27 487.02,121.27 487.2,121.27 487.38,121.27 487.56,121.27 487.74,121.27 487.91,121.27 488.09,121.27 488.27,121.27 488.45,121.27 488.63,121.27 488.8,121.27 488.98,121.27 489.16,121.27 489.34,121.27 489.52,121.27 489.7,121.27 489.87,121.28 490.05,121.28 490.23,121.28 490.41,121.28 490.59,121.28 490.77,121.28 490.94,121.28 491.12,121.28 491.3,121.28 491.48,121.28 491.66,121.28 491.83,121.28 492.01,121.28 492.19,121.28 492.37,121.28 492.55,121.28 492.73,121.28 492.9,121.28 493.08,121.28 493.26,121.28 493.44,121.28 493.62,121.29 493.79,121.29 493.97,121.29 494.15,121.29 494.33,121.29 494.51,121.29 494.69,121.29 494.86,121.29 495.04,121.29 495.22,121.29 495.4,121.29 495.58,121.29 495.75,121.29 495.93,121.29 496.11,121.29 496.29,121.29 496.47,121.29 496.65,121.29 496.82,121.29 497,121.29 497.18,121.29 497.36,121.29 497.54,121.29 497.72,121.29 497.89,121.29 498.07,121.29 498.25,121.29 498.43,121.29 498.61,121.29 498.78,121.3 498.96,121.3 499.14,121.3 499.32,121.3 499.5,121.3 499.68,121.3 499.85,121.3 500.03,121.3 500.21,121.3 500.39,121.3 500.57,121.3 500.74,121.3 500.92,121.3 501.1,121.3 501.28,121.3 501.46,121.3 501.64,121.3 501.81,121.3 501.99,121.3 502.17,121.3 502.35,121.3 502.53,121.3 502.71,121.3 502.88,121.3 503.06,121.3 503.24,121.3 503.42,121.3 503.6,121.3 503.77,121.3 503.95,121.3 504.13,121.3 504.31,121.3 504.49,121.3 504.67,121.3 504.84,121.3 505.02,121.3 505.2,121.3" stroke="url(#ga)" stroke-width="1.3" stroke-linejoin="round"/>
<path d="M94 15.5H110.5" stroke="#6262ff" stroke-width="1"/>
<text x="116.2" y="13.8" font-size="6.3" font-weight="bold" fill="#111" stroke="#111" stroke-width="0.15">AID-Radio</text>
<text x="116.2" y="21.8" font-size="6.45" font-weight="bold" fill="#111" stroke="#111" stroke-width="0.15">230322_99mTc-A1_Cys</text>
<text x="94.6" y="31.6" font-size="8.65" fill="#2e2ea8" stroke="#2e2ea8" stroke-width="0.25">Retention Time</text>
<text transform="translate(212 58.2) rotate(-90) scale(1.065 1)" font-size="8.2" fill="#2626aa" stroke="#2626aa" stroke-width="0.45">6.167</text>
<text transform="translate(382.5 68) rotate(-90) scale(1.065 1)" font-size="8.2" fill="#2626aa" stroke="#2626aa" stroke-width="0.45">14.123</text>
<text transform="translate(407.1 39.8) rotate(-90) scale(1.065 1)" font-size="8.2" fill="#2626aa" stroke="#2626aa" stroke-width="0.45">15.273</text>
<text x="161.3" y="67.3" font-size="11" fill="#111" stroke="#111" stroke-width="0.25">32.5%</text>
<path d="M175.6 68.8L200.8 103.1" stroke="#444" stroke-width="0.8" marker-end="url(#ah)"/>
<text x="330" y="67.3" font-size="11" fill="#111" stroke="#111" stroke-width="0.25">25.5%</text>
<path d="M344.6 69L369.2 103" stroke="#444" stroke-width="0.8" marker-end="url(#ah)"/>
<text x="363" y="21.2" font-size="11" fill="#111" stroke="#111" stroke-width="0.25">42%</text>
<path d="M374.4 22.4L399.6 56.6" stroke="#444" stroke-width="0.8" marker-end="url(#ah)"/>
<text x="5.0" y="70.5" font-size="15.2" font-weight="bold" fill="#000" stroke="#000" stroke-width="0.6">A</text>
<text transform="translate(7.8 239.9) scale(0.9 1)" font-size="15.4" font-weight="bold" fill="#000" stroke="#000" stroke-width="0.6">B</text>
<text transform="translate(42.07 67.3) rotate(-90)" text-anchor="middle" font-size="6.3" fill="#2a2a2a" stroke="#2a2a2a" stroke-width="0.2">mV</text>
<text transform="translate(546.27 67.5) rotate(-90)" text-anchor="middle" font-size="6.3" fill="#2a2a2a" stroke="#2a2a2a" stroke-width="0.2">mV</text>
<text transform="translate(39.27 233.5) rotate(-90)" text-anchor="middle" font-size="6.3" fill="#2a2a2a" stroke="#2a2a2a" stroke-width="0.2">mV</text>
<text transform="translate(546.27 234.2) rotate(-90)" text-anchor="middle" font-size="6.3" fill="#2a2a2a" stroke="#2a2a2a" stroke-width="0.2">%</text>
<path d="M75.7 170.7H507.1" stroke="#7e7e7e" stroke-width="1.5"/>
<path d="M76.4 170.7V297 M506.4 170.7V297" stroke="#7e7e7e" stroke-width="1.5"/>
<path d="M76.4 297H506.4" stroke="#7e7e7e" stroke-width="1.5"/>
<path d="M74.6 294.51H76.4 M74.6 289.48H76.4 M72.9 284.45H76.4 M74.6 279.42H76.4 M74.6 274.39H76.4 M74.6 269.36H76.4 M74.6 264.33H76.4 M74.6 259.3H76.4 M74.6 254.27H76.4 M74.6 249.24H76.4 M74.6 244.21H76.4 M74.6 239.18H76.4 M72.9 234.15H76.4 M74.6 229.12H76.4 M74.6 224.09H76.4 M74.6 219.06H76.4 M74.6 214.03H76.4 M74.6 209H76.4 M74.6 203.97H76.4 M74.6 198.94H76.4 M74.6 193.91H76.4 M74.6 188.88H76.4 M72.9 183.85H76.4 M74.6 178.82H76.4 M74.6 173.79H76.4" stroke="#333" stroke-width="1"/>
<path d="M506.4 297.05H508.2 M506.4 286.5H509.3 M506.4 275.95H508.2 M506.4 265.4H508.2 M506.4 254.85H508.2 M506.4 244.3H508.2 M506.4 233.75H509.3 M506.4 223.2H508.2 M506.4 212.65H508.2 M506.4 202.1H508.2 M506.4 191.55H508.2 M506.4 181H509.3 M506.4 170.45H508.2" stroke="#333" stroke-width="1"/>
<path d="M76 297V300 M80.3 297V298.6 M84.6 297V298.6 M88.91 297V298.6 M93.21 297V298.6 M97.51 297V300 M101.81 297V298.6 M106.11 297V298.6 M110.42 297V298.6 M114.72 297V298.6 M119.02 297V300 M123.32 297V298.6 M127.62 297V298.6 M131.93 297V298.6 M136.23 297V298.6 M140.53 297V300 M144.83 297V298.6 M149.13 297V298.6 M153.44 297V298.6 M157.74 297V298.6 M162.04 297V300 M166.34 297V298.6 M170.64 297V298.6 M174.95 297V298.6 M179.25 297V298.6 M183.55 297V300 M187.85 297V298.6 M192.15 297V298.6 M196.46 297V298.6 M200.76 297V298.6 M205.06 297V300 M209.36 297V298.6 M213.66 297V298.6 M217.97 297V298.6 M222.27 297V298.6 M226.57 297V300 M230.87 297V298.6 M235.17 297V298.6 M239.48 297V298.6 M243.78 297V298.6 M248.08 297V300 M252.38 297V298.6 M256.68 297V298.6 M260.99 297V298.6 M265.29 297V298.6 M269.59 297V300 M273.89 297V298.6 M278.19 297V298.6 M282.5 297V298.6 M286.8 297V298.6 M291.1 297V300 M295.4 297V298.6 M299.7 297V298.6 M304.01 297V298.6 M308.31 297V298.6 M312.61 297V300 M316.91 297V298.6 M321.21 297V298.6 M325.52 297V298.6 M329.82 297V298.6 M334.12 297V300 M338.42 297V298.6 M342.72 297V298.6 M347.03 297V298.6 M351.33 297V298.6 M355.63 297V300 M359.93 297V298.6 M364.23 297V298.6 M368.54 297V298.6 M372.84 297V298.6 M377.14 297V300 M381.44 297V298.6 M385.74 297V298.6 M390.05 297V298.6 M394.35 297V298.6 M398.65 297V300 M402.95 297V298.6 M407.25 297V298.6 M411.56 297V298.6 M415.86 297V298.6 M420.16 297V300 M424.46 297V298.6 M428.76 297V298.6 M433.07 297V298.6 M437.37 297V298.6 M441.67 297V300 M445.97 297V298.6 M450.27 297V298.6 M454.58 297V298.6 M458.88 297V298.6 M463.18 297V300 M467.48 297V298.6 M471.78 297V298.6 M476.09 297V298.6 M480.39 297V298.6 M484.69 297V300 M488.99 297V298.6 M493.29 297V298.6 M497.6 297V298.6 M501.9 297V298.6 M506.2 297V300" stroke="#333" stroke-width="1"/>
<text transform="translate(70.7 287.3) scale(0.92 1)" text-anchor="end" font-size="7.9" fill="#1e1e1e" stroke="#1e1e1e" stroke-width="0.25">0</text>
<text transform="translate(70.7 237) scale(0.92 1)" text-anchor="end" font-size="7.9" fill="#1e1e1e" stroke="#1e1e1e" stroke-width="0.25">100</text>
<text transform="translate(70.7 186.7) scale(0.92 1)" text-anchor="end" font-size="7.9" fill="#1e1e1e" stroke="#1e1e1e" stroke-width="0.25">200</text>
<text transform="translate(512 289.35) scale(0.92 1)" font-size="7.9" fill="#1e1e1e" stroke="#1e1e1e" stroke-width="0.25">0</text>
<text transform="translate(512 236.6) scale(0.92 1)" font-size="7.9" fill="#1e1e1e" stroke="#1e1e1e" stroke-width="0.25">50</text>
<text transform="translate(512 183.85) scale(0.92 1)" font-size="7.9" fill="#1e1e1e" stroke="#1e1e1e" stroke-width="0.25">100</text>
<text transform="translate(76 309.8) scale(0.92 1)" text-anchor="middle" font-size="7.9" fill="#1e1e1e" stroke="#1e1e1e" stroke-width="0.25">0</text>
<text transform="translate(119.02 309.8) scale(0.92 1)" text-anchor="middle" font-size="7.9" fill="#1e1e1e" stroke="#1e1e1e" stroke-width="0.25">2</text>
<text transform="translate(162.04 309.8) scale(0.92 1)" text-anchor="middle" font-size="7.9" fill="#1e1e1e" stroke="#1e1e1e" stroke-width="0.25">4</text>
<text transform="translate(205.06 309.8) scale(0.92 1)" text-anchor="middle" font-size="7.9" fill="#1e1e1e" stroke="#1e1e1e" stroke-width="0.25">6</text>
<text transform="translate(248.08 309.8) scale(0.92 1)" text-anchor="middle" font-size="7.9" fill="#1e1e1e" stroke="#1e1e1e" stroke-width="0.25">8</text>
<text transform="translate(291.1 309.8) scale(0.92 1)" text-anchor="middle" font-size="7.9" fill="#1e1e1e" stroke="#1e1e1e" stroke-width="0.25">10</text>
<text transform="translate(334.12 309.8) scale(0.92 1)" text-anchor="middle" font-size="7.9" fill="#1e1e1e" stroke="#1e1e1e" stroke-width="0.25">12</text>
<text transform="translate(377.14 309.8) scale(0.92 1)" text-anchor="middle" font-size="7.9" fill="#1e1e1e" stroke="#1e1e1e" stroke-width="0.25">14</text>
<text transform="translate(420.16 309.8) scale(0.92 1)" text-anchor="middle" font-size="7.9" fill="#1e1e1e" stroke="#1e1e1e" stroke-width="0.25">16</text>
<text transform="translate(463.18 309.8) scale(0.92 1)" text-anchor="middle" font-size="7.9" fill="#1e1e1e" stroke="#1e1e1e" stroke-width="0.25">18</text>
<text transform="translate(506.2 309.8) scale(0.92 1)" text-anchor="middle" font-size="7.9" fill="#1e1e1e" stroke="#1e1e1e" stroke-width="0.25">20</text>
<text x="291.1" y="319.6" text-anchor="middle" font-size="6.5" fill="#1e1e1e" stroke="#1e1e1e" stroke-width="0.2">Minutes</text>
<polyline points="76,284.45 76.18,284.45 76.36,284.45 76.54,284.45 76.72,284.45 76.9,284.45 77.08,284.45 77.25,284.45 77.43,284.45 77.61,284.45 77.79,284.45 77.97,284.45 78.15,284.45 78.33,284.45 78.51,284.45 78.69,284.45 78.87,284.45 79.05,284.45 79.23,284.45 79.41,284.45 79.58,284.45 79.76,284.45 79.94,284.45 80.12,284.45 80.3,284.45 80.48,284.45 80.66,284.45 80.84,284.45 81.02,284.45 81.2,284.45 81.38,284.45 81.56,284.45 81.74,284.45 81.92,284.45 82.09,284.45 82.27,284.45 82.45,284.45 82.63,284.45 82.81,284.45 82.99,284.45 83.17,284.45 83.35,284.45 83.53,284.45 83.71,284.45 83.89,284.45 84.07,284.45 84.25,284.45 84.42,284.45 84.6,284.45 84.78,284.45 84.96,284.45 85.14,284.45 85.32,284.45 85.5,284.45 85.68,284.45 85.86,284.45 86.04,284.45 86.22,284.45 86.4,284.45 86.58,284.45 86.75,284.45 86.93,284.45 87.11,284.45 87.29,284.45 87.47,284.45 87.65,284.45 87.83,284.45 88.01,284.45 88.19,284.45 88.37,284.45 88.55,284.45 88.73,284.45 88.91,284.45 89.09,284.45 89.26,284.45 89.44,284.45 89.62,284.45 89.8,284.45 89.98,284.45 90.16,284.45 90.34,284.45 90.52,284.45 90.7,284.45 90.88,284.45 91.06,284.45 91.24,284.45 91.42,284.45 91.59,284.45 91.77,284.45 91.95,284.45 92.13,284.45 92.31,284.45 92.49,284.45 92.67,284.45 92.85,284.45 93.03,284.45 93.21,284.45 93.39,284.45 93.57,284.45 93.75,284.45 93.92,284.45 94.1,284.45 94.28,284.45 94.46,284.45 94.64,284.45 94.82,284.45 95,284.45 95.18,284.45 95.36,284.45 95.54,284.45 95.72,284.45 95.9,284.45 96.08,284.45 96.26,284.45 96.43,284.45 96.61,284.45 96.79,284.45 96.97,284.45 97.15,284.45 97.33,284.45 97.51,284.45 97.69,284.45 97.87,284.45 98.05,284.45 98.23,284.45 98.41,284.45 98.59,284.45 98.76,284.45 98.94,284.45 99.12,284.45 99.3,284.45 99.48,284.45 99.66,284.45 99.84,284.45 100.02,284.45 100.2,284.45 100.38,284.45 100.56,284.45 100.74,284.45 100.92,284.45 101.09,284.45 101.27,284.45 101.45,284.45 101.63,284.45 101.81,284.45 101.99,284.45 102.17,284.45 102.35,284.45 102.53,284.45 102.71,284.45 102.89,284.45 103.07,284.45 103.25,284.45 103.43,284.45 103.6,284.45 103.78,284.45 103.96,284.45 104.14,284.45 104.32,284.45 104.5,284.45 104.68,284.45 104.86,284.45 105.04,284.45 105.22,284.45 105.4,284.45 105.58,284.45 105.76,284.45 105.93,284.45 106.11,284.45 106.29,284.45 106.47,284.45 106.65,284.45 106.83,284.45 107.01,284.45 107.19,284.45 107.37,284.45 107.55,284.45 107.73,284.45 107.91,284.45 108.09,284.45 108.27,284.45 108.44,284.45 108.62,284.45 108.8,284.45 108.98,284.45 109.16,284.45 109.34,284.45 109.52,284.45 109.7,284.45 109.88,284.45 110.06,284.45 110.24,284.45 110.42,284.45 110.6,284.45 110.77,284.45 110.95,284.45 111.13,284.45 111.31,284.45 111.49,284.45 111.67,284.45 111.85,284.45 112.03,284.45 112.21,284.45 112.39,284.45 112.57,284.45 112.75,284.45 112.93,284.45 113.1,284.45 113.28,284.45 113.46,284.45 113.64,284.45 113.82,284.45 114,284.45 114.18,284.45 114.36,284.45 114.54,284.45 114.72,284.45 114.9,284.45 115.08,284.45 115.26,284.45 115.44,284.45 115.61,284.45 115.79,284.45 115.97,284.45 116.15,284.45 116.33,284.45 116.51,284.45 116.69,284.45 116.87,284.45 117.05,284.45 117.23,284.45 117.41,284.45 117.59,284.45 117.77,284.45 117.94,284.45 118.12,284.45 118.3,284.45 118.48,284.45 118.66,284.45 118.84,284.45 119.02,284.45 119.2,284.45 119.38,284.45 119.56,284.45 119.74,284.45 119.92,284.45 120.1,284.45 120.27,284.45 120.45,284.45 120.63,284.45 120.81,284.45 120.99,284.45 121.17,284.45 121.35,284.45 121.53,284.45 121.71,284.45 121.89,284.45 122.07,284.45 122.25,284.45 122.43,284.45 122.6,284.45 122.78,284.45 122.96,284.45 123.14,284.45 123.32,284.45 123.5,284.45 123.68,284.45 123.86,284.45 124.04,284.45 124.22,284.45 124.4,284.45 124.58,284.45 124.76,284.45 124.94,284.45 125.11,284.45 125.29,284.45 125.47,284.45 125.65,284.45 125.83,284.45 126.01,284.45 126.19,284.45 126.37,284.45 126.55,284.45 126.73,284.45 126.91,284.45 127.09,284.45 127.27,284.45 127.44,284.45 127.62,284.45 127.8,284.45 127.98,284.45 128.16,284.45 128.34,284.45 128.52,284.45 128.7,284.45 128.88,284.45 129.06,284.45 129.24,284.45 129.42,284.45 129.6,284.45 129.78,284.45 129.95,284.45 130.13,284.45 130.31,284.45 130.49,284.45 130.67,284.45 130.85,284.45 131.03,284.45 131.21,284.45 131.39,284.45 131.57,284.45 131.75,284.45 131.93,284.45 132.11,284.45 132.28,284.45 132.46,284.45 132.64,284.45 132.82,284.45 133,284.45 133.18,284.45 133.36,284.45 133.54,284.45 133.72,284.45 133.9,284.45 134.08,284.45 134.26,284.45 134.44,284.45 134.61,284.45 134.79,284.45 134.97,284.45 135.15,284.45 135.33,284.45 135.51,284.45 135.69,284.45 135.87,284.45 136.05,284.45 136.23,284.45 136.41,284.45 136.59,284.45 136.77,284.45 136.94,284.45 137.12,284.45 137.3,284.45 137.48,284.45 137.66,284.45 137.84,284.45 138.02,284.45 138.2,284.45 138.38,284.45 138.56,284.45 138.74,284.45 138.92,284.45 139.1,284.45 139.28,284.45 139.45,284.45 139.63,284.45 139.81,284.45 139.99,284.45 140.17,284.45 140.35,284.45 140.53,284.45 140.71,284.45 140.89,284.45 141.07,284.45 141.25,284.44 141.43,284.44 141.61,284.44 141.78,284.43 141.96,284.42 142.14,284.4 142.32,284.38 142.5,284.36 142.68,284.32 142.86,284.29 143.04,284.24 143.22,284.19 143.4,284.14 143.58,284.09 143.76,284.05 143.94,284 144.12,283.97 144.29,283.95 144.47,283.95 144.65,283.95 144.83,283.98 145.01,284.01 145.19,284.05 145.37,284.1 145.55,284.15 145.73,284.2 145.91,284.25 146.09,284.29 146.27,284.33 146.45,284.36 146.62,284.38 146.8,284.4 146.98,284.42 147.16,284.43 147.34,284.44 147.52,284.44 147.7,284.44 147.88,284.45 148.06,284.45 148.24,284.45 148.42,284.45 148.6,284.45 148.78,284.45 148.95,284.45 149.13,284.45 149.31,284.45 149.49,284.45 149.67,284.45 149.85,284.45 150.03,284.45 150.21,284.45 150.39,284.45 150.57,284.45 150.75,284.45 150.93,284.45 151.11,284.45 151.29,284.45 151.46,284.45 151.64,284.45 151.82,284.45 152,284.45 152.18,284.45 152.36,284.45 152.54,284.45 152.72,284.45 152.9,284.45 153.08,284.45 153.26,284.45 153.44,284.45 153.62,284.45 153.79,284.45 153.97,284.45 154.15,284.45 154.33,284.45 154.51,284.45 154.69,284.45 154.87,284.45 155.05,284.45 155.23,284.45 155.41,284.45 155.59,284.45 155.77,284.45 155.95,284.45 156.12,284.45 156.3,284.45 156.48,284.45 156.66,284.45 156.84,284.45 157.02,284.45 157.2,284.45 157.38,284.45 157.56,284.45 157.74,284.45 157.92,284.45 158.1,284.45 158.28,284.45 158.46,284.45 158.63,284.45 158.81,284.45 158.99,284.45 159.17,284.45 159.35,284.45 159.53,284.45 159.71,284.45 159.89,284.45 160.07,284.45 160.25,284.45 160.43,284.45 160.61,284.45 160.79,284.45 160.96,284.45 161.14,284.45 161.32,284.45 161.5,284.45 161.68,284.45 161.86,284.45 162.04,284.45 162.22,284.45 162.4,284.45 162.58,284.45 162.76,284.45 162.94,284.45 163.12,284.45 163.29,284.45 163.47,284.45 163.65,284.45 163.83,284.45 164.01,284.45 164.19,284.45 164.37,284.45 164.55,284.45 164.73,284.45 164.91,284.45 165.09,284.45 165.27,284.45 165.45,284.45 165.62,284.45 165.8,284.45 165.98,284.45 166.16,284.45 166.34,284.45 166.52,284.45 166.7,284.45 166.88,284.45 167.06,284.45 167.24,284.45 167.42,284.45 167.6,284.45 167.78,284.45 167.96,284.45 168.13,284.45 168.31,284.45 168.49,284.45 168.67,284.45 168.85,284.45 169.03,284.45 169.21,284.45 169.39,284.45 169.57,284.45 169.75,284.45 169.93,284.45 170.11,284.45 170.29,284.45 170.46,284.45 170.64,284.45 170.82,284.45 171,284.45 171.18,284.45 171.36,284.45 171.54,284.45 171.72,284.45 171.9,284.45 172.08,284.45 172.26,284.45 172.44,284.45 172.62,284.45 172.8,284.45 172.97,284.45 173.15,284.45 173.33,284.45 173.51,284.45 173.69,284.45 173.87,284.45 174.05,284.45 174.23,284.45 174.41,284.45 174.59,284.45 174.77,284.45 174.95,284.45 175.13,284.45 175.3,284.45 175.48,284.45 175.66,284.45 175.84,284.45 176.02,284.45 176.2,284.45 176.38,284.45 176.56,284.45 176.74,284.45 176.92,284.45 177.1,284.45 177.28,284.45 177.46,284.45 177.63,284.45 177.81,284.45 177.99,284.45 178.17,284.45 178.35,284.45 178.53,284.45 178.71,284.45 178.89,284.45 179.07,284.45 179.25,284.45 179.43,284.45 179.61,284.45 179.79,284.45 179.97,284.45 180.14,284.45 180.32,284.45 180.5,284.45 180.68,284.45 180.86,284.45 181.04,284.45 181.22,284.45 181.4,284.45 181.58,284.45 181.76,284.45 181.94,284.45 182.12,284.45 182.3,284.45 182.47,284.45 182.65,284.45 182.83,284.45 183.01,284.45 183.19,284.45 183.37,284.45 183.55,284.45 183.73,284.45 183.91,284.45 184.09,284.45 184.27,284.45 184.45,284.45 184.63,284.45 184.8,284.45 184.98,284.45 185.16,284.45 185.34,284.45 185.52,284.45 185.7,284.45 185.88,284.45 186.06,284.45 186.24,284.45 186.42,284.45 186.6,284.45 186.78,284.45 186.96,284.45 187.14,284.45 187.31,284.45 187.49,284.45 187.67,284.45 187.85,284.45 188.03,284.45 188.21,284.45 188.39,284.45 188.57,284.45 188.75,284.45 188.93,284.45 189.11,284.45 189.29,284.45 189.47,284.45 189.64,284.45 189.82,284.45 190,284.45 190.18,284.45 190.36,284.45 190.54,284.45 190.72,284.45 190.9,284.45 191.08,284.45 191.26,284.45 191.44,284.45 191.62,284.45 191.8,284.45 191.97,284.45 192.15,284.45 192.33,284.45 192.51,284.45 192.69,284.45 192.87,284.45 193.05,284.45 193.23,284.45 193.41,284.45 193.59,284.45 193.77,284.45 193.95,284.45 194.13,284.45 194.31,284.45 194.48,284.45 194.66,284.45 194.84,284.45 195.02,284.45 195.2,284.45 195.38,284.45 195.56,284.45 195.74,284.45 195.92,284.45 196.1,284.45 196.28,284.45 196.46,284.45 196.64,284.45 196.81,284.45 196.99,284.45 197.17,284.45 197.35,284.45 197.53,284.45 197.71,284.45 197.89,284.45 198.07,284.45 198.25,284.45 198.43,284.45 198.61,284.45 198.79,284.45 198.97,284.45 199.14,284.45 199.32,284.45 199.5,284.45 199.68,284.45 199.86,284.45 200.04,284.45 200.22,284.45 200.4,284.45 200.58,284.45 200.76,284.45 200.94,284.45 201.12,284.45 201.3,284.45 201.48,284.45 201.65,284.45 201.83,284.45 202.01,284.45 202.19,284.45 202.37,284.45 202.55,284.45 202.73,284.45 202.91,284.45 203.09,284.45 203.27,284.45 203.45,284.45 203.63,284.45 203.81,284.45 203.98,284.45 204.16,284.45 204.34,284.45 204.52,284.45 204.7,284.45 204.88,284.45 205.06,284.45 205.24,284.45 205.42,284.45 205.6,284.45 205.78,284.45 205.96,284.45 206.14,284.45 206.31,284.45 206.49,284.45 206.67,284.45 206.85,284.45 207.03,284.45 207.21,284.45 207.39,284.45 207.57,284.45 207.75,284.45 207.93,284.45 208.11,284.45 208.29,284.45 208.47,284.45 208.65,284.45 208.82,284.45 209,284.45 209.18,284.45 209.36,284.45 209.54,284.45 209.72,284.45 209.9,284.45 210.08,284.45 210.26,284.45 210.44,284.45 210.62,284.45 210.8,284.45 210.98,284.45 211.15,284.45 211.33,284.45 211.51,284.45 211.69,284.45 211.87,284.45 212.05,284.45 212.23,284.45 212.41,284.45 212.59,284.45 212.77,284.45 212.95,284.45 213.13,284.45 213.31,284.45 213.48,284.45 213.66,284.45 213.84,284.45 214.02,284.45 214.2,284.45 214.38,284.45 214.56,284.45 214.74,284.45 214.92,284.45 215.1,284.45 215.28,284.45 215.46,284.45 215.64,284.45 215.81,284.45 215.99,284.45 216.17,284.45 216.35,284.45 216.53,284.45 216.71,284.45 216.89,284.45 217.07,284.45 217.25,284.45 217.43,284.45 217.61,284.45 217.79,284.45 217.97,284.45 218.15,284.45 218.32,284.45 218.5,284.45 218.68,284.45 218.86,284.45 219.04,284.45 219.22,284.45 219.4,284.45 219.58,284.45 219.76,284.45 219.94,284.45 220.12,284.45 220.3,284.45 220.48,284.45 220.65,284.45 220.83,284.45 221.01,284.45 221.19,284.45 221.37,284.45 221.55,284.45 221.73,284.45 221.91,284.45 222.09,284.45 222.27,284.45 222.45,284.45 222.63,284.45 222.81,284.45 222.99,284.45 223.16,284.45 223.34,284.45 223.52,284.45 223.7,284.45 223.88,284.45 224.06,284.45 224.24,284.45 224.42,284.45 224.6,284.45 224.78,284.45 224.96,284.45 225.14,284.45 225.32,284.45 225.49,284.45 225.67,284.45 225.85,284.45 226.03,284.45 226.21,284.45 226.39,284.45 226.57,284.45 226.75,284.45 226.93,284.45 227.11,284.45 227.29,284.45 227.47,284.45 227.65,284.45 227.82,284.45 228,284.45 228.18,284.45 228.36,284.45 228.54,284.45 228.72,284.45 228.9,284.45 229.08,284.45 229.26,284.45 229.44,284.45 229.62,284.45 229.8,284.45 229.98,284.45 230.16,284.45 230.33,284.45 230.51,284.45 230.69,284.45 230.87,284.45 231.05,284.45 231.23,284.45 231.41,284.45 231.59,284.45 231.77,284.45 231.95,284.45 232.13,284.45 232.31,284.45 232.49,284.45 232.66,284.45 232.84,284.45 233.02,284.44 233.2,284.44 233.38,284.44 233.56,284.43 233.74,284.42 233.92,284.41 234.1,284.39 234.28,284.37 234.46,284.34 234.64,284.31 234.82,284.27 234.99,284.23 235.17,284.19 235.35,284.15 235.53,284.12 235.71,284.08 235.89,284.06 236.07,284.05 236.25,284.05 236.43,284.06 236.61,284.08 236.79,284.11 236.97,284.14 237.15,284.18 237.33,284.22 237.5,284.26 237.68,284.3 237.86,284.33 238.04,284.36 238.22,284.38 238.4,284.4 238.58,284.42 238.76,284.43 238.94,284.43 239.12,284.44 239.3,284.44 239.48,284.45 239.66,284.45 239.83,284.45 240.01,284.45 240.19,284.45 240.37,284.45 240.55,284.45 240.73,284.45 240.91,284.45 241.09,284.45 241.27,284.45 241.45,284.45 241.63,284.45 241.81,284.45 241.99,284.45 242.16,284.45 242.34,284.45 242.52,284.45 242.7,284.45 242.88,284.45 243.06,284.45 243.24,284.45 243.42,284.45 243.6,284.45 243.78,284.45 243.96,284.45 244.14,284.45 244.32,284.45 244.5,284.45 244.67,284.45 244.85,284.45 245.03,284.45 245.21,284.45 245.39,284.45 245.57,284.45 245.75,284.45 245.93,284.45 246.11,284.45 246.29,284.45 246.47,284.45 246.65,284.45 246.83,284.45 247,284.45 247.18,284.45 247.36,284.45 247.54,284.45 247.72,284.45 247.9,284.45 248.08,284.45 248.26,284.44 248.44,284.44 248.62,284.43 248.8,284.43 248.98,284.42 249.16,284.4 249.33,284.38 249.51,284.36 249.69,284.33 249.87,284.3 250.05,284.26 250.23,284.22 250.41,284.18 250.59,284.14 250.77,284.11 250.95,284.08 251.13,284.06 251.31,284.05 251.49,284.05 251.66,284.06 251.84,284.08 252.02,284.12 252.2,284.15 252.38,284.19 252.56,284.23 252.74,284.27 252.92,284.31 253.1,284.34 253.28,284.37 253.46,284.39 253.64,284.41 253.82,284.42 254,284.43 254.17,284.44 254.35,284.44 254.53,284.44 254.71,284.45 254.89,284.45 255.07,284.45 255.25,284.45 255.43,284.45 255.61,284.45 255.79,284.45 255.97,284.45 256.15,284.45 256.33,284.45 256.5,284.45 256.68,284.45 256.86,284.45 257.04,284.45 257.22,284.45 257.4,284.45 257.58,284.45 257.76,284.45 257.94,284.45 258.12,284.45 258.3,284.45 258.48,284.45 258.66,284.45 258.84,284.45 259.01,284.45 259.19,284.45 259.37,284.45 259.55,284.45 259.73,284.45 259.91,284.45 260.09,284.45 260.27,284.45 260.45,284.45 260.63,284.45 260.81,284.45 260.99,284.45 261.17,284.45 261.34,284.45 261.52,284.45 261.7,284.45 261.88,284.45 262.06,284.45 262.24,284.45 262.42,284.45 262.6,284.45 262.78,284.45 262.96,284.45 263.14,284.45 263.32,284.45 263.5,284.45 263.67,284.45 263.85,284.45 264.03,284.45 264.21,284.45 264.39,284.45 264.57,284.45 264.75,284.45 264.93,284.45 265.11,284.45 265.29,284.45 265.47,284.45 265.65,284.45 265.83,284.45 266,284.45 266.18,284.45 266.36,284.45 266.54,284.45 266.72,284.45 266.9,284.45 267.08,284.45 267.26,284.45 267.44,284.45 267.62,284.45 267.8,284.45 267.98,284.45 268.16,284.45 268.34,284.45 268.51,284.45 268.69,284.45 268.87,284.45 269.05,284.45 269.23,284.45 269.41,284.45 269.59,284.45 269.77,284.45 269.95,284.45 270.13,284.45 270.31,284.45 270.49,284.45 270.67,284.45 270.84,284.45 271.02,284.45 271.2,284.45 271.38,284.45 271.56,284.45 271.74,284.45 271.92,284.45 272.1,284.45 272.28,284.45 272.46,284.45 272.64,284.45 272.82,284.45 273,284.45 273.18,284.45 273.35,284.45 273.53,284.45 273.71,284.45 273.89,284.45 274.07,284.45 274.25,284.45 274.43,284.45 274.61,284.45 274.79,284.45 274.97,284.45 275.15,284.45 275.33,284.45 275.51,284.45 275.68,284.45 275.86,284.45 276.04,284.45 276.22,284.45 276.4,284.45 276.58,284.45 276.76,284.45 276.94,284.45 277.12,284.45 277.3,284.45 277.48,284.45 277.66,284.45 277.84,284.45 278.01,284.45 278.19,284.45 278.37,284.45 278.55,284.45 278.73,284.45 278.91,284.45 279.09,284.45 279.27,284.45 279.45,284.45 279.63,284.45 279.81,284.45 279.99,284.45 280.17,284.45 280.35,284.45 280.52,284.45 280.7,284.45 280.88,284.45 281.06,284.45 281.24,284.45 281.42,284.45 281.6,284.45 281.78,284.45 281.96,284.45 282.14,284.45 282.32,284.45 282.5,284.45 282.68,284.45 282.85,284.45 283.03,284.45 283.21,284.45 283.39,284.45 283.57,284.45 283.75,284.45 283.93,284.45 284.11,284.45 284.29,284.45 284.47,284.45 284.65,284.45 284.83,284.45 285.01,284.45 285.18,284.45 285.36,284.45 285.54,284.45 285.72,284.45 285.9,284.45 286.08,284.45 286.26,284.45 286.44,284.45 286.62,284.45 286.8,284.45 286.98,284.45 287.16,284.45 287.34,284.45 287.51,284.45 287.69,284.45 287.87,284.45 288.05,284.45 288.23,284.45 288.41,284.45 288.59,284.45 288.77,284.45 288.95,284.45 289.13,284.45 289.31,284.45 289.49,284.45 289.67,284.45 289.85,284.45 290.02,284.45 290.2,284.45 290.38,284.45 290.56,284.45 290.74,284.45 290.92,284.45 291.1,284.45 291.28,284.45 291.46,284.45 291.64,284.45 291.82,284.45 292,284.45 292.18,284.45 292.35,284.45 292.53,284.45 292.71,284.45 292.89,284.45 293.07,284.45 293.25,284.45 293.43,284.45 293.61,284.45 293.79,284.45 293.97,284.45 294.15,284.45 294.33,284.45 294.51,284.45 294.69,284.45 294.86,284.45 295.04,284.45 295.22,284.45 295.4,284.45 295.58,284.45 295.76,284.45 295.94,284.45 296.12,284.45 296.3,284.45 296.48,284.45 296.66,284.45 296.84,284.45 297.02,284.45 297.19,284.45 297.37,284.45 297.55,284.45 297.73,284.45 297.91,284.45 298.09,284.45 298.27,284.45 298.45,284.45 298.63,284.45 298.81,284.45 298.99,284.45 299.17,284.45 299.35,284.45 299.52,284.45 299.7,284.45 299.88,284.45 300.06,284.45 300.24,284.45 300.42,284.45 300.6,284.45 300.78,284.45 300.96,284.45 301.14,284.45 301.32,284.45 301.5,284.45 301.68,284.45 301.86,284.45 302.03,284.45 302.21,284.45 302.39,284.45 302.57,284.45 302.75,284.45 302.93,284.45 303.11,284.45 303.29,284.45 303.47,284.45 303.65,284.45 303.83,284.45 304.01,284.45 304.19,284.45 304.36,284.45 304.54,284.45 304.72,284.45 304.9,284.45 305.08,284.45 305.26,284.45 305.44,284.45 305.62,284.45 305.8,284.45 305.98,284.45 306.16,284.45 306.34,284.45 306.52,284.45 306.69,284.45 306.87,284.45 307.05,284.45 307.23,284.45 307.41,284.45 307.59,284.45 307.77,284.45 307.95,284.45 308.13,284.45 308.31,284.45 308.49,284.45 308.67,284.45 308.85,284.45 309.03,284.45 309.2,284.45 309.38,284.45 309.56,284.45 309.74,284.45 309.92,284.45 310.1,284.45 310.28,284.45 310.46,284.45 310.64,284.45 310.82,284.45 311,284.45 311.18,284.45 311.36,284.45 311.53,284.45 311.71,284.45 311.89,284.45 312.07,284.45 312.25,284.45 312.43,284.45 312.61,284.45 312.79,284.45 312.97,284.45 313.15,284.45 313.33,284.45 313.51,284.45 313.69,284.45 313.86,284.45 314.04,284.45 314.22,284.45 314.4,284.45 314.58,284.45 314.76,284.45 314.94,284.45 315.12,284.45 315.3,284.45 315.48,284.45 315.66,284.45 315.84,284.45 316.02,284.45 316.19,284.45 316.37,284.45 316.55,284.45 316.73,284.45 316.91,284.45 317.09,284.45 317.27,284.45 317.45,284.45 317.63,284.45 317.81,284.45 317.99,284.45 318.17,284.45 318.35,284.45 318.53,284.45 318.7,284.45 318.88,284.45 319.06,284.45 319.24,284.45 319.42,284.45 319.6,284.45 319.78,284.45 319.96,284.45 320.14,284.45 320.32,284.45 320.5,284.45 320.68,284.45 320.86,284.45 321.03,284.45 321.21,284.45 321.39,284.45 321.57,284.45 321.75,284.45 321.93,284.45 322.11,284.45 322.29,284.45 322.47,284.45 322.65,284.45 322.83,284.45 323.01,284.45 323.19,284.45 323.37,284.45 323.54,284.45 323.72,284.45 323.9,284.45 324.08,284.45 324.26,284.45 324.44,284.45 324.62,284.45 324.8,284.45 324.98,284.45 325.16,284.45 325.34,284.45 325.52,284.45 325.7,284.45 325.87,284.45 326.05,284.45 326.23,284.45 326.41,284.45 326.59,284.45 326.77,284.45 326.95,284.45 327.13,284.45 327.31,284.45 327.49,284.45 327.67,284.45 327.85,284.45 328.03,284.45 328.2,284.45 328.38,284.45 328.56,284.45 328.74,284.45 328.92,284.45 329.1,284.45 329.28,284.45 329.46,284.45 329.64,284.45 329.82,284.45 330,284.45 330.18,284.45 330.36,284.45 330.54,284.45 330.71,284.45 330.89,284.45 331.07,284.45 331.25,284.45 331.43,284.45 331.61,284.45 331.79,284.45 331.97,284.45 332.15,284.45 332.33,284.45 332.51,284.45 332.69,284.45 332.87,284.45 333.04,284.45 333.22,284.45 333.4,284.45 333.58,284.45 333.76,284.45 333.94,284.45 334.12,284.45 334.3,284.45 334.48,284.45 334.66,284.45 334.84,284.45 335.02,284.45 335.2,284.45 335.37,284.45 335.55,284.45 335.73,284.45 335.91,284.45 336.09,284.45 336.27,284.45 336.45,284.45 336.63,284.45 336.81,284.45 336.99,284.45 337.17,284.45 337.35,284.45 337.53,284.45 337.7,284.45 337.88,284.45 338.06,284.45 338.24,284.45 338.42,284.45 338.6,284.45 338.78,284.45 338.96,284.45 339.14,284.45 339.32,284.45 339.5,284.45 339.68,284.45 339.86,284.45 340.04,284.45 340.21,284.45 340.39,284.45 340.57,284.45 340.75,284.45 340.93,284.45 341.11,284.45 341.29,284.45 341.47,284.45 341.65,284.45 341.83,284.45 342.01,284.45 342.19,284.45 342.37,284.45 342.54,284.45 342.72,284.45 342.9,284.45 343.08,284.45 343.26,284.45 343.44,284.45 343.62,284.45 343.8,284.45 343.98,284.45 344.16,284.45 344.34,284.45 344.52,284.45 344.7,284.45 344.88,284.45 345.05,284.45 345.23,284.45 345.41,284.45 345.59,284.45 345.77,284.45 345.95,284.45 346.13,284.45 346.31,284.45 346.49,284.45 346.67,284.45 346.85,284.45 347.03,284.45 347.21,284.45 347.38,284.45 347.56,284.45 347.74,284.45 347.92,284.45 348.1,284.45 348.28,284.45 348.46,284.45 348.64,284.45 348.82,284.45 349,284.45 349.18,284.45 349.36,284.45 349.54,284.45 349.71,284.45 349.89,284.45 350.07,284.45 350.25,284.45 350.43,284.45 350.61,284.45 350.79,284.45 350.97,284.45 351.15,284.45 351.33,284.45 351.51,284.45 351.69,284.45 351.87,284.45 352.05,284.45 352.22,284.45 352.4,284.45 352.58,284.45 352.76,284.45 352.94,284.45 353.12,284.45 353.3,284.45 353.48,284.45 353.66,284.45 353.84,284.45 354.02,284.45 354.2,284.45 354.38,284.45 354.55,284.45 354.73,284.45 354.91,284.45 355.09,284.45 355.27,284.45 355.45,284.45 355.63,284.45 355.81,284.45 355.99,284.45 356.17,284.45 356.35,284.45 356.53,284.45 356.71,284.45 356.88,284.45 357.06,284.45 357.24,284.45 357.42,284.45 357.6,284.45 357.78,284.45 357.96,284.45 358.14,284.45 358.32,284.45 358.5,284.45 358.68,284.45 358.86,284.45 359.04,284.45 359.22,284.45 359.39,284.45 359.57,284.45 359.75,284.45 359.93,284.45 360.11,284.45 360.29,284.45 360.47,284.45 360.65,284.45 360.83,284.45 361.01,284.45 361.19,284.45 361.37,284.45 361.55,284.45 361.72,284.45 361.9,284.45 362.08,284.45 362.26,284.45 362.44,284.45 362.62,284.45 362.8,284.45 362.98,284.45 363.16,284.45 363.34,284.45 363.52,284.45 363.7,284.45 363.88,284.45 364.05,284.45 364.23,284.45 364.41,284.45 364.59,284.45 364.77,284.45 364.95,284.45 365.13,284.45 365.31,284.45 365.49,284.45 365.67,284.45 365.85,284.45 366.03,284.45 366.21,284.45 366.39,284.45 366.56,284.45 366.74,284.45 366.92,284.45 367.1,284.45 367.28,284.45 367.46,284.45 367.64,284.45 367.82,284.45 368,284.45 368.18,284.45 368.36,284.45 368.54,284.45 368.72,284.45 368.89,284.45 369.07,284.45 369.25,284.45 369.43,284.45 369.61,284.45 369.79,284.45 369.97,284.45 370.15,284.45 370.33,284.45 370.51,284.45 370.69,284.45 370.87,284.45 371.05,284.45 371.22,284.45 371.4,284.45 371.58,284.45 371.76,284.45 371.94,284.45 372.12,284.45 372.3,284.45 372.48,284.45 372.66,284.45 372.84,284.45 373.02,284.45 373.2,284.45 373.38,284.45 373.56,284.45 373.73,284.45 373.91,284.45 374.09,284.45 374.27,284.45 374.45,284.45 374.63,284.45 374.81,284.45 374.99,284.45 375.17,284.45 375.35,284.45 375.53,284.45 375.71,284.45 375.89,284.45 376.06,284.45 376.24,284.45 376.42,284.45 376.6,284.45 376.78,284.45 376.96,284.45 377.14,284.45 377.32,284.45 377.5,284.45 377.68,284.45 377.86,284.45 378.04,284.45 378.22,284.45 378.39,284.45 378.57,284.45 378.75,284.45 378.93,284.45 379.11,284.45 379.29,284.45 379.47,284.45 379.65,284.45 379.83,284.45 380.01,284.45 380.19,284.45 380.37,284.45 380.55,284.45 380.73,284.45 380.9,284.45 381.08,284.45 381.26,284.45 381.44,284.45 381.62,284.45 381.8,284.45 381.98,284.45 382.16,284.45 382.34,284.45 382.52,284.45 382.7,284.45 382.88,284.45 383.06,284.45 383.23,284.45 383.41,284.45 383.59,284.45 383.77,284.45 383.95,284.44 384.13,284.44 384.31,284.44 384.49,284.43 384.67,284.42 384.85,284.41 385.03,284.39 385.21,284.36 385.39,284.34 385.56,284.3 385.74,284.27 385.92,284.23 386.1,284.19 386.28,284.15 386.46,284.11 386.64,284.08 386.82,284.06 387,284.05 387.18,284.05 387.36,284.06 387.54,284.08 387.72,284.11 387.9,284.14 388.07,284.18 388.25,284.22 388.43,284.26 388.61,284.3 388.79,284.33 388.97,284.36 389.15,284.38 389.33,284.4 389.51,284.41 389.69,284.42 389.87,284.42 390.05,284.42 390.23,284.42 390.4,284.41 390.58,284.4 390.76,284.38 390.94,284.36 391.12,284.34 391.3,284.31 391.48,284.27 391.66,284.23 391.84,284.18 392.02,284.13 392.2,284.08 392.38,284.03 392.56,283.98 392.73,283.94 392.91,283.9 393.09,283.87 393.27,283.85 393.45,283.85 393.63,283.85 393.81,283.86 393.99,283.89 394.17,283.92 394.35,283.97 394.53,284.01 394.71,284.06 394.89,284.11 395.07,284.16 395.24,284.21 395.42,284.25 395.6,284.29 395.78,284.33 395.96,284.35 396.14,284.38 396.32,284.4 396.5,284.41 396.68,284.42 396.86,284.43 397.04,284.44 397.22,284.44 397.4,284.44 397.57,284.44 397.75,284.44 397.93,284.44 398.11,284.44 398.29,284.44 398.47,284.43 398.65,284.41 398.83,284.38 399.01,284.34 399.19,284.27 399.37,284.17 399.55,284.02 399.73,283.8 399.9,283.47 400.08,283.01 400.26,282.36 400.44,281.47 400.62,280.28 400.8,278.7 400.98,276.67 401.16,274.1 401.34,270.9 401.52,267.02 401.7,262.4 401.88,257.03 402.06,250.92 402.24,244.14 402.41,236.79 402.59,229.06 402.77,221.15 402.95,213.32 403.13,205.87 403.31,199.08 403.49,193.25 403.67,188.64 403.85,185.48 404.03,183.9 404.21,183.91 404.39,185.24 404.57,187.81 404.74,191.52 404.92,196.22 405.1,201.73 405.28,207.86 405.46,214.42 405.64,221.19 405.82,228 406,234.68 406.18,241.08 406.36,247.1 406.54,252.64 406.72,257.61 406.9,261.99 407.07,265.78 407.25,269 407.43,271.69 407.61,273.91 407.79,275.71 407.97,277.15 408.15,278.28 408.33,279.16 408.51,279.83 408.69,280.34 408.87,280.73 409.05,281.01 409.23,281.23 409.41,281.39 409.58,281.51 409.76,281.6 409.94,281.67 410.12,281.73 410.3,281.78 410.48,281.83 410.66,281.87 410.84,281.91 411.02,281.95 411.2,281.99 411.38,282.02 411.56,282.06 411.74,282.1 411.91,282.14 412.09,282.18 412.27,282.23 412.45,282.27 412.63,282.31 412.81,282.35 412.99,282.39 413.17,282.44 413.35,282.48 413.53,282.52 413.71,282.57 413.89,282.61 414.07,282.65 414.24,282.7 414.42,282.74 414.6,282.78 414.78,282.83 414.96,282.87 415.14,282.91 415.32,282.96 415.5,283 415.68,283.04 415.86,283.08 416.04,283.12 416.22,283.16 416.4,283.2 416.58,283.24 416.75,283.28 416.93,283.32 417.11,283.35 417.29,283.39 417.47,283.43 417.65,283.46 417.83,283.5 418.01,283.53 418.19,283.57 418.37,283.6 418.55,283.63 418.73,283.66 418.91,283.69 419.08,283.72 419.26,283.75 419.44,283.78 419.62,283.81 419.8,283.83 419.98,283.86 420.16,283.88 420.34,283.91 420.52,283.93 420.7,283.95 420.88,283.98 421.06,284 421.24,284.02 421.41,284.04 421.59,284.06 421.77,284.08 421.95,284.09 422.13,284.11 422.31,284.13 422.49,284.14 422.67,284.16 422.85,284.17 423.03,284.19 423.21,284.2 423.39,284.21 423.57,284.22 423.75,284.23 423.92,284.23 424.1,284.24 424.28,284.24 424.46,284.23 424.64,284.22 424.82,284.2 425,284.18 425.18,284.14 425.36,284.1 425.54,284.04 425.72,283.98 425.9,283.9 426.08,283.81 426.25,283.72 426.43,283.62 426.61,283.52 426.79,283.42 426.97,283.33 427.15,283.25 427.33,283.2 427.51,283.16 427.69,283.14 427.87,283.14 428.05,283.16 428.23,283.19 428.41,283.24 428.58,283.29 428.76,283.36 428.94,283.43 429.12,283.5 429.3,283.58 429.48,283.66 429.66,283.74 429.84,283.82 430.02,283.9 430.2,283.97 430.38,284.04 430.56,284.1 430.74,284.15 430.92,284.2 431.09,284.25 431.27,284.28 431.45,284.31 431.63,284.34 431.81,284.36 431.99,284.38 432.17,284.39 432.35,284.41 432.53,284.42 432.71,284.42 432.89,284.43 433.07,284.43 433.25,284.44 433.42,284.44 433.6,284.44 433.78,284.44 433.96,284.44 434.14,284.45 434.32,284.45 434.5,284.45 434.68,284.45 434.86,284.45 435.04,284.45 435.22,284.45 435.4,284.45 435.58,284.45 435.75,284.45 435.93,284.45 436.11,284.45 436.29,284.45 436.47,284.45 436.65,284.45 436.83,284.45 437.01,284.45 437.19,284.45 437.37,284.45 437.55,284.45 437.73,284.45 437.91,284.45 438.08,284.45 438.26,284.45 438.44,284.45 438.62,284.45 438.8,284.45 438.98,284.45 439.16,284.45 439.34,284.45 439.52,284.45 439.7,284.45 439.88,284.45 440.06,284.45 440.24,284.45 440.42,284.45 440.59,284.45 440.77,284.45 440.95,284.45 441.13,284.45 441.31,284.45 441.49,284.45 441.67,284.45 441.85,284.45 442.03,284.45 442.21,284.45 442.39,284.45 442.57,284.45 442.75,284.45 442.92,284.45 443.1,284.45 443.28,284.45 443.46,284.45 443.64,284.45 443.82,284.45 444,284.45 444.18,284.45 444.36,284.45 444.54,284.45 444.72,284.45 444.9,284.45 445.08,284.45 445.26,284.45 445.43,284.45 445.61,284.45 445.79,284.45 445.97,284.45 446.15,284.45 446.33,284.45 446.51,284.45 446.69,284.45 446.87,284.45 447.05,284.45 447.23,284.45 447.41,284.45 447.59,284.45 447.76,284.45 447.94,284.45 448.12,284.45 448.3,284.45 448.48,284.45 448.66,284.45 448.84,284.45 449.02,284.45 449.2,284.45 449.38,284.45 449.56,284.45 449.74,284.45 449.92,284.45 450.09,284.45 450.27,284.45 450.45,284.45 450.63,284.45 450.81,284.45 450.99,284.45 451.17,284.45 451.35,284.45 451.53,284.45 451.71,284.45 451.89,284.45 452.07,284.45 452.25,284.45 452.43,284.45 452.6,284.45 452.78,284.45 452.96,284.45 453.14,284.45 453.32,284.45 453.5,284.45 453.68,284.45 453.86,284.45 454.04,284.45 454.22,284.45 454.4,284.45 454.58,284.45 454.76,284.45 454.93,284.45 455.11,284.45 455.29,284.45 455.47,284.45 455.65,284.45 455.83,284.45 456.01,284.45 456.19,284.45 456.37,284.45 456.55,284.45 456.73,284.45 456.91,284.45 457.09,284.45 457.26,284.45 457.44,284.45 457.62,284.45 457.8,284.45 457.98,284.45 458.16,284.45 458.34,284.45 458.52,284.45 458.7,284.45 458.88,284.45 459.06,284.45 459.24,284.45 459.42,284.45 459.6,284.45 459.77,284.45 459.95,284.45 460.13,284.45 460.31,284.45 460.49,284.45 460.67,284.45 460.85,284.45 461.03,284.45 461.21,284.45 461.39,284.45 461.57,284.45 461.75,284.45 461.93,284.45 462.1,284.45 462.28,284.45 462.46,284.45 462.64,284.45 462.82,284.45 463,284.45 463.18,284.45 463.36,284.45 463.54,284.45 463.72,284.45 463.9,284.45 464.08,284.45 464.26,284.45 464.43,284.45 464.61,284.45 464.79,284.45 464.97,284.45 465.15,284.45 465.33,284.45 465.51,284.45 465.69,284.45 465.87,284.45 466.05,284.45 466.23,284.45 466.41,284.45 466.59,284.45 466.77,284.45 466.94,284.45 467.12,284.45 467.3,284.45 467.48,284.45 467.66,284.45 467.84,284.45 468.02,284.45 468.2,284.45 468.38,284.45 468.56,284.45 468.74,284.45 468.92,284.45 469.1,284.45 469.27,284.45 469.45,284.45 469.63,284.45 469.81,284.45 469.99,284.45 470.17,284.45 470.35,284.45 470.53,284.45 470.71,284.45 470.89,284.45 471.07,284.45 471.25,284.45 471.43,284.45 471.6,284.45 471.78,284.45 471.96,284.45 472.14,284.45 472.32,284.45 472.5,284.45 472.68,284.45 472.86,284.45 473.04,284.45 473.22,284.45 473.4,284.45 473.58,284.45 473.76,284.45 473.94,284.45 474.11,284.45 474.29,284.45 474.47,284.45 474.65,284.45 474.83,284.45 475.01,284.45 475.19,284.45 475.37,284.45 475.55,284.45 475.73,284.45 475.91,284.45 476.09,284.45 476.27,284.45 476.44,284.45 476.62,284.45 476.8,284.45 476.98,284.45 477.16,284.45 477.34,284.45 477.52,284.45 477.7,284.45 477.88,284.45 478.06,284.45 478.24,284.45 478.42,284.45 478.6,284.45 478.77,284.45 478.95,284.45 479.13,284.45 479.31,284.45 479.49,284.45 479.67,284.45 479.85,284.45 480.03,284.45 480.21,284.45 480.39,284.45 480.57,284.45 480.75,284.45 480.93,284.45 481.11,284.45 481.28,284.45 481.46,284.45 481.64,284.45 481.82,284.45 482,284.45 482.18,284.45 482.36,284.45 482.54,284.45 482.72,284.45 482.9,284.45 483.08,284.45 483.26,284.45 483.44,284.45 483.61,284.45 483.79,284.45 483.97,284.45 484.15,284.45 484.33,284.45 484.51,284.45 484.69,284.45 484.87,284.45 485.05,284.45 485.23,284.45 485.41,284.45 485.59,284.45 485.77,284.45 485.94,284.45 486.12,284.45 486.3,284.45 486.48,284.45 486.66,284.45 486.84,284.45 487.02,284.45 487.2,284.45 487.38,284.45 487.56,284.45 487.74,284.45 487.92,284.45 488.1,284.45 488.28,284.45 488.45,284.45 488.63,284.45 488.81,284.45 488.99,284.45 489.17,284.45 489.35,284.45 489.53,284.45 489.71,284.45 489.89,284.45 490.07,284.45 490.25,284.45 490.43,284.45 490.61,284.45 490.78,284.45 490.96,284.45 491.14,284.45 491.32,284.45 491.5,284.45 491.68,284.45 491.86,284.45 492.04,284.45 492.22,284.45 492.4,284.45 492.58,284.45 492.76,284.45 492.94,284.45 493.11,284.45 493.29,284.45 493.47,284.45 493.65,284.45 493.83,284.45 494.01,284.45 494.19,284.45 494.37,284.45 494.55,284.45 494.73,284.45 494.91,284.45 495.09,284.45 495.27,284.45 495.45,284.45 495.62,284.45 495.8,284.45 495.98,284.45 496.16,284.45 496.34,284.45 496.52,284.45 496.7,284.45 496.88,284.45 497.06,284.45 497.24,284.45 497.42,284.45 497.6,284.45 497.78,284.45 497.95,284.45 498.13,284.45 498.31,284.45 498.49,284.45 498.67,284.45 498.85,284.45 499.03,284.45 499.21,284.45 499.39,284.45 499.57,284.45 499.75,284.45 499.93,284.45 500.11,284.45 500.28,284.45 500.46,284.45 500.64,284.45 500.82,284.45 501,284.45 501.18,284.45 501.36,284.45 501.54,284.45 501.72,284.45 501.9,284.45 502.08,284.45 502.26,284.45 502.44,284.45 502.62,284.45 502.79,284.45 502.97,284.45 503.15,284.45 503.33,284.45 503.51,284.45 503.69,284.45 503.87,284.45 504.05,284.45 504.23,284.45 504.41,284.45 504.59,284.45 504.77,284.45 504.95,284.45 505.12,284.45 505.3,284.45 505.48,284.45 505.66,284.45 505.84,284.45 506.02,284.45 506.2,284.45" stroke="url(#gb)" stroke-width="1.3" stroke-linejoin="round"/>
<path d="M92.3 180.2H108.7" stroke="#5a5a5a" stroke-width="1.1"/>
<text x="114.6" y="178.4" font-size="6.3" font-weight="bold" fill="#111" stroke="#111" stroke-width="0.15">AID-Radio</text>
<text x="114.6" y="186.4" font-size="6.45" font-weight="bold" fill="#111" stroke="#111" stroke-width="0.15">230322_99mTc-A1_PBS</text>
<text x="93" y="196.4" font-size="8.65" fill="#2e2ea8" stroke="#2e2ea8" stroke-width="0.25">Retention Time</text>
<path d="M204.2 176.5H221.3" stroke="#f05a5a" stroke-width="1.2"/>
<text x="226.6" y="178.2" font-size="6.4" font-weight="bold" fill="#111" stroke="#111" stroke-width="0.15">Pump 1 Solvent B</text>
<path d="M76 281L506.2 223.3" stroke="#f25a5a" stroke-width="1.3"/>
<text transform="translate(147.5 274.9) rotate(-90) scale(1.065 1)" font-size="8.2" fill="#2626aa" stroke="#2626aa" stroke-width="0.45">3.183</text>
<text transform="translate(238.5 274.5) rotate(-90) scale(1.065 1)" font-size="8.2" fill="#2626aa" stroke="#2626aa" stroke-width="0.45">7.447</text>
<text transform="translate(254.3 274.3) rotate(-90) scale(1.065 1)" font-size="8.2" fill="#2626aa" stroke="#2626aa" stroke-width="0.45">8.153</text>
<text transform="translate(389.9 273.9) rotate(-90) scale(1.065 1)" font-size="8.2" fill="#2626aa" stroke="#2626aa" stroke-width="0.45">14.463</text>
<text transform="translate(396.6 272.9) rotate(-90) scale(1.065 1)" font-size="8.2" fill="#2626aa" stroke="#2626aa" stroke-width="0.45">14.760</text>
<text transform="translate(405.9 287.9) rotate(-90) scale(1.065 1)" font-size="8.2" fill="#2626aa" stroke="#2626aa" stroke-width="0.45">15.253</text>
<text transform="translate(430.3 272.1) rotate(-90) scale(1.065 1)" font-size="8.2" fill="#2626aa" stroke="#2626aa" stroke-width="0.45">16.353</text>
<text x="360" y="206.8" font-size="11" fill="#111" stroke="#111" stroke-width="0.25">94.4%</text>
<path d="M374.5 208.8L399.8 243" stroke="#444" stroke-width="0.8" marker-end="url(#ah)"/>
<text x="448.3" y="240.2" font-size="11" fill="#111" stroke="#111" stroke-width="0.25">2.3%</text>
<path d="M453.8 241.4L430.5 280.2" stroke="#444" stroke-width="0.8" marker-end="url(#ah)"/>
</svg></body></html>
